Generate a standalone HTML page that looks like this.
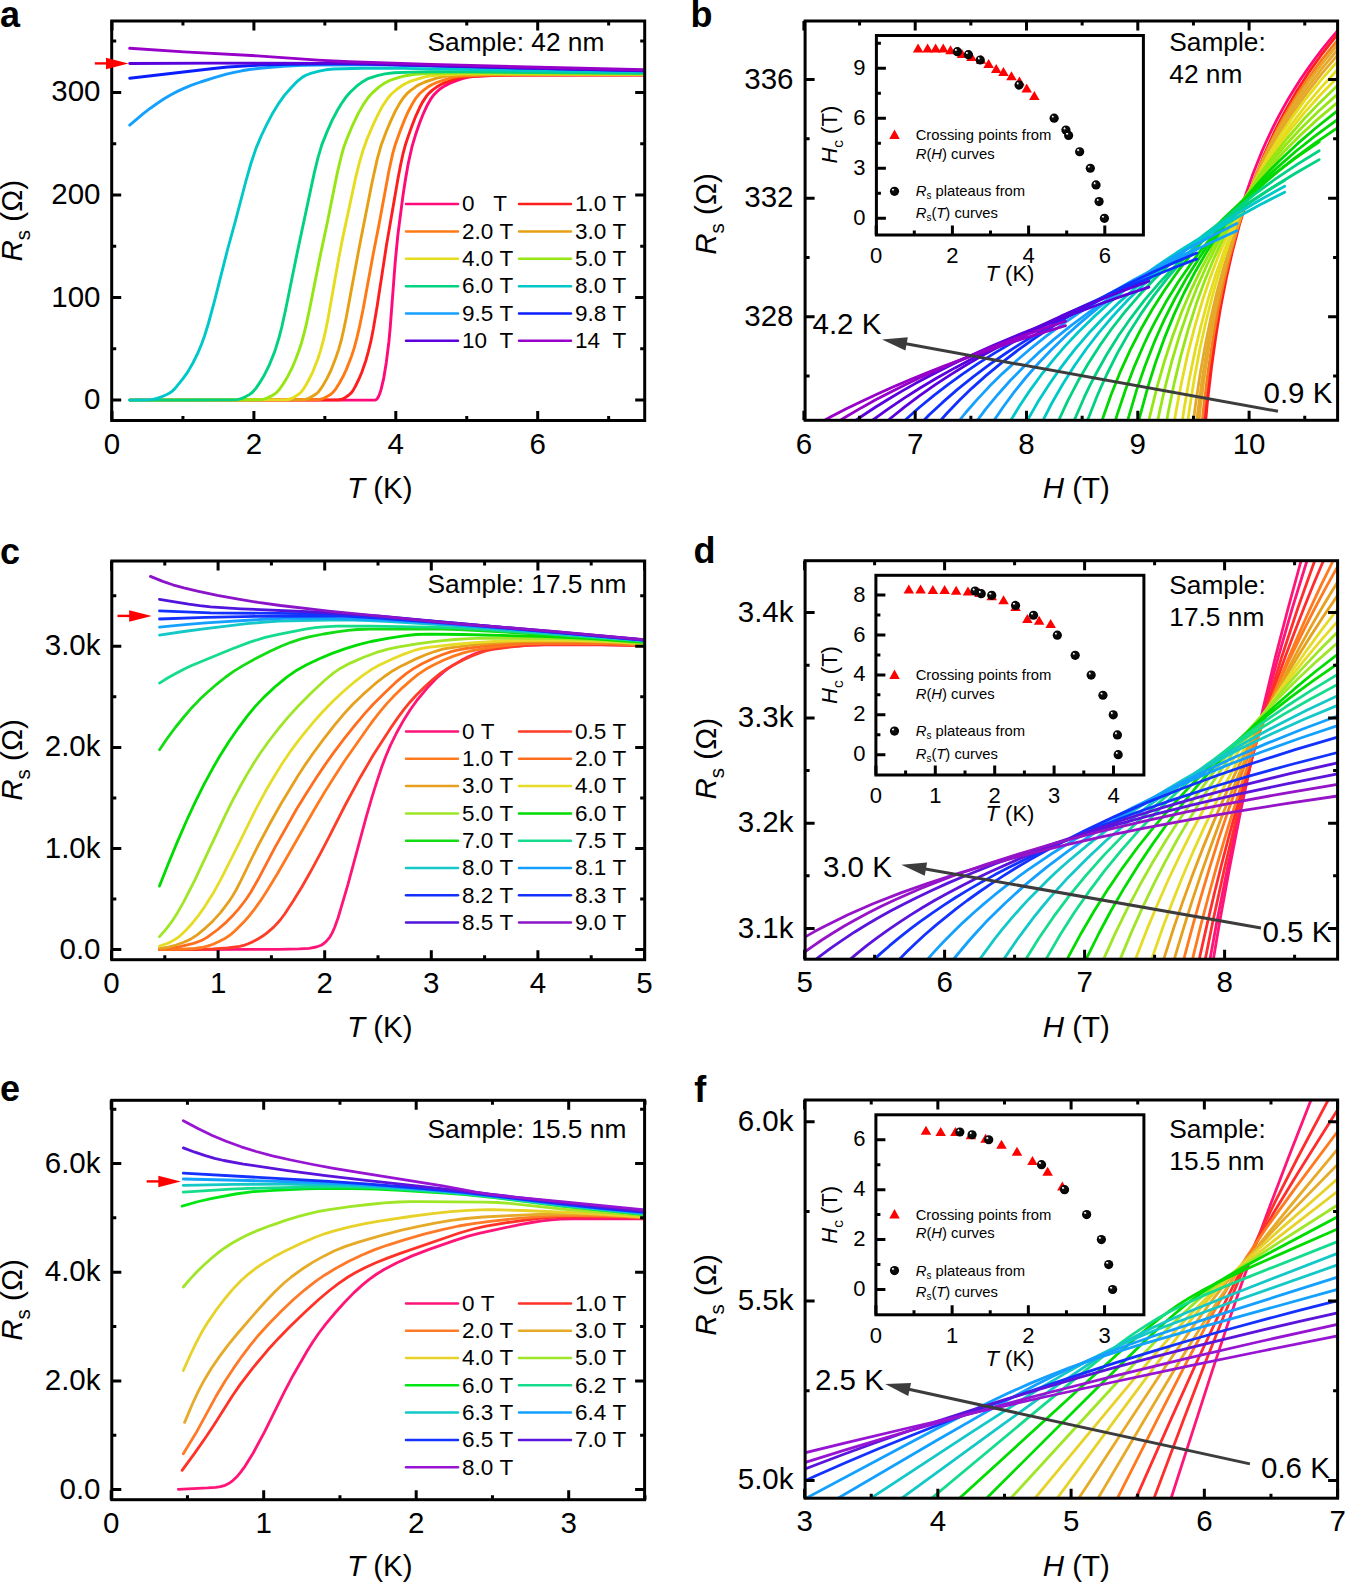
<!DOCTYPE html><html><head><meta charset="utf-8"><style>html,body{margin:0;padding:0;background:#fff}svg{display:block}text{font-family:"Liberation Sans",sans-serif;fill:#000}</style></head><body><svg width="1345" height="1582" viewBox="0 0 1345 1582"><defs><radialGradient id="sph" cx="0.5" cy="0.5" r="0.5" fx="0.3" fy="0.27"><stop offset="0" stop-color="#fff"/><stop offset="0.12" stop-color="#eee"/><stop offset="0.3" stop-color="#111"/><stop offset="1" stop-color="#000"/></radialGradient><clipPath id="c1"><rect x="111.7" y="21" width="533" height="399.5"/></clipPath><clipPath id="c2"><rect x="805.1" y="21" width="532.5" height="399.3"/></clipPath><clipPath id="c3"><rect x="111.8" y="561" width="532.9" height="398.7"/></clipPath><clipPath id="c4"><rect x="805.1" y="560.7" width="532.5" height="398.5"/></clipPath><clipPath id="c5"><rect x="111.8" y="1100.3" width="532.8" height="399.4"/></clipPath><clipPath id="c6"><rect x="805.1" y="1100" width="532.5" height="398.2"/></clipPath></defs><path d="M129.7 400.1L373.4 400.1L374.7 400.1L376.0 399.8L377.3 398.6L378.6 396.4L379.8 393.5L381.1 389.4L383.7 378.4L386.3 362.5L388.9 341.7L390.2 327.7L395.3 261.0L397.9 234.6L403.0 195.4L405.6 178.5L408.2 163.7L412.1 146.3L415.9 133.7L419.8 122.5L423.7 112.8L427.5 104.7L431.4 98.1L434.0 94.7L436.6 92.0L440.4 88.7L444.3 86.1L449.5 83.4L455.9 80.8L462.3 78.7L467.5 77.3L472.7 76.5L492.0 75.5L513.9 75.1L644.1 75.0" fill="none" stroke="#ff0a78" stroke-width="2.9" stroke-linejoin="round" stroke-linecap="round" clip-path="url(#c1)"/>
<path d="M129.7 400.1L338.6 399.8L341.2 399.5L345.0 397.7L348.9 395.0L351.5 392.6L352.8 390.9L355.3 386.5L359.2 378.5L361.8 372.3L365.7 361.0L368.2 352.1L370.8 341.7L373.4 328.5L377.3 305.2L386.3 246.3L397.9 179.1L400.5 165.6L403.0 153.8L405.6 144.2L408.2 136.4L412.1 125.5L415.9 115.8L419.8 107.3L422.4 102.4L426.3 96.4L428.8 93.3L432.7 89.9L436.6 87.1L440.4 84.8L444.3 82.9L450.7 80.5L457.2 78.5L462.3 77.2L467.5 76.5L485.6 75.5L506.2 75.0L644.1 74.9" fill="none" stroke="#ff1e1e" stroke-width="2.9" stroke-linejoin="round" stroke-linecap="round" clip-path="url(#c1)"/>
<path d="M129.7 400.1L318.0 399.8L321.8 399.0L325.7 397.3L330.9 394.2L333.4 391.9L336.0 388.6L339.9 382.3L343.7 375.2L346.3 369.6L351.5 356.3L354.1 348.4L356.6 339.2L359.2 328.2L363.1 309.3L373.4 253.1L378.6 226.6L388.9 171.0L392.7 153.6L395.3 144.5L400.5 130.1L404.3 120.4L408.2 111.7L412.1 104.3L415.9 98.1L419.8 93.5L423.7 90.1L428.8 86.4L432.7 84.3L436.6 82.5L443.0 80.3L449.5 78.3L454.6 77.1L458.5 76.4L468.8 75.7L488.1 75.0L511.3 74.8L644.1 74.8" fill="none" stroke="#ff7a14" stroke-width="2.9" stroke-linejoin="round" stroke-linecap="round" clip-path="url(#c1)"/>
<path d="M129.7 400.1L302.5 399.8L305.1 399.5L308.9 398.2L314.1 395.3L316.7 393.5L318.0 392.4L320.5 389.2L323.1 385.2L327.0 378.4L330.9 370.5L336.0 357.3L338.6 349.6L341.2 340.5L343.7 329.6L346.3 317.2L359.2 247.5L372.1 182.3L377.3 158.9L381.1 145.3L386.3 131.5L390.2 122.1L395.3 111.1L399.2 104.1L403.0 98.3L406.9 93.7L410.8 90.3L415.9 86.6L419.8 84.3L425.0 82.0L436.6 78.2L441.7 77.0L446.9 76.1L457.2 75.3L472.7 74.7L488.1 74.4L644.1 74.6" fill="none" stroke="#e6a014" stroke-width="2.9" stroke-linejoin="round" stroke-linecap="round" clip-path="url(#c1)"/>
<path d="M129.7 400.1L285.7 399.8L288.3 399.5L292.2 398.2L294.8 396.8L298.6 394.3L301.2 392.0L303.8 388.6L306.4 384.3L310.2 377.2L312.8 371.8L318.0 358.5L320.5 350.6L323.1 341.4L325.7 330.1L328.3 317.1L338.6 258.9L342.5 238.9L355.3 179.2L359.2 163.4L363.1 150.0L366.9 139.4L373.4 124.1L378.6 113.4L382.4 106.3L387.6 98.5L391.4 94.0L396.6 89.5L401.8 85.8L405.6 83.5L410.8 81.2L422.4 77.6L427.5 76.4L432.7 75.5L443.0 74.7L466.2 73.9L494.6 73.7L644.1 74.2" fill="none" stroke="#e6dc1e" stroke-width="2.9" stroke-linejoin="round" stroke-linecap="round" clip-path="url(#c1)"/>
<path d="M129.7 400.1L261.2 399.7L263.8 399.2L266.4 398.4L271.5 395.9L275.4 393.5L276.7 392.4L279.3 389.6L283.2 384.0L287.0 377.8L292.2 367.7L296.0 358.5L298.6 351.6L301.2 343.8L303.8 334.5L306.4 323.9L310.2 306.1L320.5 254.4L327.0 224.0L337.3 172.9L341.2 156.5L343.7 147.5L347.6 137.1L352.8 124.8L357.9 114.1L363.1 104.9L368.2 97.5L372.1 93.1L378.6 87.4L383.7 83.7L387.6 81.5L391.4 79.8L399.2 77.4L405.6 75.7L414.6 74.2L430.1 73.4L448.2 73.0L468.8 72.9L644.1 73.9" fill="none" stroke="#96e614" stroke-width="2.9" stroke-linejoin="round" stroke-linecap="round" clip-path="url(#c1)"/>
<path d="M129.7 400.1L198.1 400.0L236.7 399.7L239.3 399.2L241.9 398.4L245.8 396.6L249.6 394.4L252.2 392.5L256.1 388.1L259.9 382.4L263.8 376.1L269.0 365.7L272.8 356.4L275.4 349.4L279.3 336.7L281.9 326.5L285.7 309.2L297.3 252.2L314.1 173.6L318.0 157.7L321.8 144.9L327.0 131.9L332.1 120.4L337.3 110.5L341.2 104.0L346.3 96.7L350.2 92.3L356.6 86.2L363.1 81.4L366.9 79.2L369.5 78.2L377.3 75.7L385.0 73.9L394.0 72.8L412.1 72.1L431.4 71.7L467.5 71.9L644.1 73.4" fill="none" stroke="#00d282" stroke-width="2.9" stroke-linejoin="round" stroke-linecap="round" clip-path="url(#c1)"/>
<path d="M129.7 400.1L149.1 399.8L152.9 399.4L156.8 398.5L160.7 397.2L165.8 395.0L169.7 393.0L172.3 391.1L174.9 388.6L182.6 379.2L187.8 371.9L192.9 363.0L198.1 352.5L201.9 343.3L204.5 336.0L208.4 323.5L214.8 299.8L227.7 249.0L235.5 220.7L245.8 181.5L250.9 163.5L256.1 148.1L261.2 136.0L266.4 125.1L272.8 112.9L278.0 104.4L284.4 95.4L290.9 88.0L297.3 81.3L302.5 77.1L306.4 75.0L311.5 73.2L319.2 71.1L325.7 69.8L333.4 69.0L361.8 68.2L403.0 68.4L538.4 70.7L644.1 72.1" fill="none" stroke="#00c8c8" stroke-width="2.9" stroke-linejoin="round" stroke-linecap="round" clip-path="url(#c1)"/>
<path d="M129.7 125.1L143.9 113.1L150.4 108.2L158.1 102.7L164.5 98.5L171.0 94.8L177.4 91.4L183.9 88.4L191.6 85.2L200.6 82.0L213.5 77.9L226.4 74.2L234.2 72.3L241.9 70.8L250.9 69.3L259.9 68.2L283.2 66.2L302.5 65.2L319.2 65.0L368.2 64.9L397.9 65.4L644.1 70.9" fill="none" stroke="#14a0ff" stroke-width="2.9" stroke-linejoin="round" stroke-linecap="round" clip-path="url(#c1)"/>
<path d="M129.7 78.2L213.5 68.5L227.7 67.0L259.9 65.1L289.6 64.2L334.7 63.8L366.9 64.1L533.3 68.4L644.1 70.7" fill="none" stroke="#0a1eff" stroke-width="2.9" stroke-linejoin="round" stroke-linecap="round" clip-path="url(#c1)"/>
<path d="M129.7 63.5L217.4 63.1L345.0 63.4L441.7 65.7L538.4 68.3L644.1 70.5" fill="none" stroke="#5a00dc" stroke-width="2.9" stroke-linejoin="round" stroke-linecap="round" clip-path="url(#c1)"/>
<path d="M129.7 48.3L183.9 51.9L257.4 55.9L318.0 60.1L348.9 61.7L431.4 64.4L538.4 67.3L644.1 69.7" fill="none" stroke="#9600c8" stroke-width="2.9" stroke-linejoin="round" stroke-linecap="round" clip-path="url(#c1)"/>
<path d="M112 420.5v-9.5M112 21v9.5M253.9 420.5v-9.5M253.9 21v9.5M395.8 420.5v-9.5M395.8 21v9.5M537.7 420.5v-9.5M537.7 21v9.5M182.95 420.5v-4.5M182.95 21v4.5M324.85 420.5v-4.5M324.85 21v4.5M466.75 420.5v-4.5M466.75 21v4.5M608.65 420.5v-4.5M608.65 21v4.5M111.7 400.1h9.5M644.7 400.1h-9.5M111.7 297.53h9.5M644.7 297.53h-9.5M111.7 194.96h9.5M644.7 194.96h-9.5M111.7 92.39h9.5M644.7 92.39h-9.5M111.7 348.81h4.5M644.7 348.81h-4.5M111.7 246.25h4.5M644.7 246.25h-4.5M111.7 143.68h4.5M644.7 143.68h-4.5M111.7 41.11h4.5M644.7 41.11h-4.5" stroke="#000" stroke-width="3" fill="none"/>
<rect x="111.7" y="21" width="533" height="399.5" stroke="#000" stroke-width="3" fill="none"/>
<text x="112" y="453.5" font-size="29.5" text-anchor="middle">0</text>
<text x="253.9" y="453.5" font-size="29.5" text-anchor="middle">2</text>
<text x="395.8" y="453.5" font-size="29.5" text-anchor="middle">4</text>
<text x="537.7" y="453.5" font-size="29.5" text-anchor="middle">6</text>
<text x="100.5" y="409.1" font-size="29.5" text-anchor="end">0</text>
<text x="100.5" y="306.53" font-size="29.5" text-anchor="end">100</text>
<text x="100.5" y="203.96" font-size="29.5" text-anchor="end">200</text>
<text x="100.5" y="101.39" font-size="29.5" text-anchor="end">300</text>
<text x="379.8" y="498" text-anchor="middle" font-size="29.5"><tspan font-style="italic">T</tspan> (K)</text>
<text transform="translate(22,220.7) rotate(-90)" text-anchor="middle" font-size="29.5"><tspan font-style="italic">R</tspan><tspan font-size="20.6" dy="8.0">s</tspan><tspan dy="-8.0"> (Ω)</tspan></text>
<text x="0" y="26.5" font-size="36" font-weight="bold">a</text>
<text x="427.5" y="50.5" font-size="26.3">Sample: 42 nm</text>
<path d="M406 204.1h52" stroke="#ff0a78" stroke-width="2.5" stroke-linecap="round"/>
<text x="462" y="211.4" font-size="22.5">0&#160;&#160;&#160;T</text>
<path d="M519 204.1h52" stroke="#ff1e1e" stroke-width="2.5" stroke-linecap="round"/>
<text x="575" y="211.4" font-size="22.5">1.0&#160;T</text>
<path d="M406 231.45h52" stroke="#ff7a14" stroke-width="2.5" stroke-linecap="round"/>
<text x="462" y="238.75" font-size="22.5">2.0&#160;T</text>
<path d="M519 231.45h52" stroke="#e6a014" stroke-width="2.5" stroke-linecap="round"/>
<text x="575" y="238.75" font-size="22.5">3.0&#160;T</text>
<path d="M406 258.8h52" stroke="#e6dc1e" stroke-width="2.5" stroke-linecap="round"/>
<text x="462" y="266.1" font-size="22.5">4.0&#160;T</text>
<path d="M519 258.8h52" stroke="#96e614" stroke-width="2.5" stroke-linecap="round"/>
<text x="575" y="266.1" font-size="22.5">5.0&#160;T</text>
<path d="M406 286.15h52" stroke="#00d282" stroke-width="2.5" stroke-linecap="round"/>
<text x="462" y="293.45" font-size="22.5">6.0&#160;T</text>
<path d="M519 286.15h52" stroke="#00c8c8" stroke-width="2.5" stroke-linecap="round"/>
<text x="575" y="293.45" font-size="22.5">8.0&#160;T</text>
<path d="M406 313.5h52" stroke="#14a0ff" stroke-width="2.5" stroke-linecap="round"/>
<text x="462" y="320.8" font-size="22.5">9.5&#160;T</text>
<path d="M519 313.5h52" stroke="#0a1eff" stroke-width="2.5" stroke-linecap="round"/>
<text x="575" y="320.8" font-size="22.5">9.8&#160;T</text>
<path d="M406 340.85h52" stroke="#5a00dc" stroke-width="2.5" stroke-linecap="round"/>
<text x="462" y="348.15" font-size="22.5">10&#160;&#160;T</text>
<path d="M519 340.85h52" stroke="#9600c8" stroke-width="2.5" stroke-linecap="round"/>
<text x="575" y="348.15" font-size="22.5">14&#160;&#160;T</text>
<path d="M94.8 63.4H107" stroke="#ff0000" stroke-width="2.4"/>
<path d="M128.5 63.4L106 57.65L106 69.15Z" fill="#ff0000"/>
<path d="M1202.3 449.2L1205.7 407.1L1209.2 373.4L1213.4 340.4L1218.2 308.5L1223.8 278.3L1230.1 249.8L1237.0 222.9L1243.9 199.7L1252.3 175.6L1261.3 152.9L1266.2 141.8L1271.7 130.0L1277.3 118.9L1282.8 108.6L1288.4 98.8L1294.7 88.5L1300.9 78.8L1307.9 68.6L1314.8 59.0L1321.7 49.9L1329.4 40.4L1337.0 31.5" fill="none" stroke="#ff0a78" stroke-width="2.8" stroke-linejoin="round" stroke-linecap="round" clip-path="url(#c2)"/>
<path d="M1203.9 440.4L1207.3 403.4L1211.5 367.4L1215.7 337.4L1220.5 307.9L1226.1 279.3L1232.3 251.8L1239.2 225.6L1246.9 200.7L1255.2 177.0L1264.2 154.5L1273.9 133.0L1279.5 121.9L1285.0 111.4L1296.8 90.9L1309.3 71.6L1322.5 53.3L1337.0 35.0" fill="none" stroke="#ff1e1e" stroke-width="2.8" stroke-linejoin="round" stroke-linecap="round" clip-path="url(#c2)"/>
<path d="M1200.0 444.2L1203.6 408.2L1207.9 372.8L1212.9 338.9L1217.9 310.3L1223.6 282.5L1230.0 255.6L1237.1 229.8L1245.0 205.2L1253.5 181.8L1262.8 159.4L1272.8 138.1L1278.5 127.0L1284.2 116.5L1295.6 97.2L1308.5 77.8L1322.0 59.3L1337.0 40.9" fill="none" stroke="#f57d1e" stroke-width="2.8" stroke-linejoin="round" stroke-linecap="round" clip-path="url(#c2)"/>
<path d="M1196.9 440.5L1200.5 406.6L1204.9 372.9L1210.1 340.2L1215.2 312.5L1221.1 285.2L1227.7 258.8L1235.0 233.4L1243.1 209.0L1251.9 185.6L1261.4 163.3L1271.7 142.1L1277.6 130.9L1283.5 120.4L1295.2 101.1L1308.4 81.6L1322.4 63.1L1337.0 45.4" fill="none" stroke="#e6a82a" stroke-width="2.8" stroke-linejoin="round" stroke-linecap="round" clip-path="url(#c2)"/>
<path d="M1194.0 445.0L1197.8 412.0L1202.2 378.9L1207.5 346.6L1212.7 319.1L1219.5 288.8L1226.2 262.8L1233.7 237.7L1241.9 213.5L1250.9 190.3L1260.7 168.0L1271.1 146.7L1282.4 126.4L1294.3 106.8L1307.8 87.1L1322.1 68.3L1337.0 50.4" fill="none" stroke="#e6a82a" stroke-width="2.8" stroke-linejoin="round" stroke-linecap="round" clip-path="url(#c2)"/>
<path d="M1190.8 442.1L1195.4 405.4L1200.0 374.7L1205.4 344.3L1210.8 318.1L1216.9 292.1L1223.9 266.5L1231.6 241.8L1240.0 217.8L1249.3 194.8L1259.3 172.6L1270.1 151.4L1281.6 131.0L1293.9 111.5L1307.8 91.7L1321.6 73.8L1337.0 55.8" fill="none" stroke="#e6a82a" stroke-width="2.8" stroke-linejoin="round" stroke-linecap="round" clip-path="url(#c2)"/>
<path d="M1184.6 445.2L1189.4 409.4L1194.2 379.3L1199.8 349.3L1205.5 323.5L1212.7 294.7L1219.9 269.8L1227.9 245.5L1236.7 221.9L1246.4 199.2L1256.8 177.3L1268.0 156.2L1280.1 136.0L1292.9 116.6L1306.5 98.0L1321.0 80.1L1337.0 62.0" fill="none" stroke="#e6dc1e" stroke-width="2.8" stroke-linejoin="round" stroke-linecap="round" clip-path="url(#c2)"/>
<path d="M1179.2 441.9L1184.2 408.2L1189.2 379.6L1195.0 350.9L1200.9 326.1L1208.4 298.2L1215.9 274.0L1224.3 250.3L1233.5 227.2L1243.5 204.9L1254.3 183.4L1266.0 162.7L1278.6 142.7L1291.9 123.6L1306.1 105.1L1321.2 87.4L1337.0 70.3" fill="none" stroke="#e6dc1e" stroke-width="2.8" stroke-linejoin="round" stroke-linecap="round" clip-path="url(#c2)"/>
<path d="M1170.7 444.2L1176.0 411.4L1181.3 383.5L1187.4 355.4L1194.5 327.7L1202.4 300.8L1210.3 277.2L1219.1 254.1L1228.8 231.6L1239.4 209.7L1250.8 188.6L1263.1 168.3L1275.4 149.9L1289.5 130.9L1304.5 112.6L1320.3 95.0L1337.0 78.0" fill="none" stroke="#e6dc1e" stroke-width="2.8" stroke-linejoin="round" stroke-linecap="round" clip-path="url(#c2)"/>
<path d="M1163.1 440.8L1168.7 409.8L1174.2 383.2L1180.7 356.3L1188.1 329.7L1196.4 303.6L1204.7 280.7L1214.0 258.2L1224.2 236.2L1235.3 214.8L1247.3 194.1L1260.2 174.1L1273.2 156.1L1287.1 138.5L1302.8 120.3L1319.5 102.9L1337.0 86.0" fill="none" stroke="#96e614" stroke-width="2.8" stroke-linejoin="round" stroke-linecap="round" clip-path="url(#c2)"/>
<path d="M1153.5 442.9L1159.3 412.8L1165.2 386.9L1172.0 360.7L1179.8 334.6L1188.6 309.1L1197.4 286.6L1207.2 264.5L1217.9 242.9L1229.6 221.8L1242.3 201.4L1256.0 181.7L1269.7 163.8L1284.3 146.5L1300.9 128.5L1318.5 111.3L1337.0 94.6" fill="none" stroke="#96e614" stroke-width="2.8" stroke-linejoin="round" stroke-linecap="round" clip-path="url(#c2)"/>
<path d="M1143.7 445.0L1149.9 415.9L1157.1 386.8L1164.3 361.7L1172.5 336.6L1181.7 311.9L1191.0 290.2L1201.3 268.7L1212.6 247.6L1224.9 227.0L1238.3 207.0L1245.5 197.1L1252.7 187.7L1267.1 170.2L1283.6 152.0L1300.0 135.5L1317.5 119.4L1337.0 102.9" fill="none" stroke="#96e614" stroke-width="2.8" stroke-linejoin="round" stroke-linecap="round" clip-path="url(#c2)"/>
<path d="M1133.8 441.8L1140.4 414.3L1148.0 386.6L1155.6 362.5L1164.3 338.4L1174.0 314.6L1183.8 293.5L1194.7 272.6L1206.6 252.1L1219.7 232.1L1232.7 214.0L1240.3 204.2L1247.9 194.9L1263.1 177.7L1271.8 168.5L1280.5 159.7L1297.9 143.4L1316.4 127.5L1337.0 111.2" fill="none" stroke="#00d800" stroke-width="2.8" stroke-linejoin="round" stroke-linecap="round" clip-path="url(#c2)"/>
<path d="M1121.8 443.5L1128.7 416.8L1136.7 389.9L1144.8 366.5L1154.0 342.9L1158.6 332.2L1164.3 319.7L1174.7 299.0L1186.2 278.6L1198.9 258.4L1205.8 248.3L1212.7 238.8L1226.5 221.0L1234.6 211.4L1242.6 202.3L1258.7 185.3L1268.0 176.2L1277.2 167.6L1295.6 151.5L1315.2 135.9L1337.0 119.8" fill="none" stroke="#00d800" stroke-width="2.8" stroke-linejoin="round" stroke-linecap="round" clip-path="url(#c2)"/>
<path d="M1109.7 440.4L1117.0 415.1L1125.6 389.5L1134.1 367.1L1143.9 344.5L1148.8 334.2L1154.9 322.1L1165.9 302.1L1178.1 282.3L1191.6 262.7L1198.9 252.9L1206.3 243.6L1220.9 226.3L1229.5 216.9L1238.0 208.0L1255.1 191.4L1264.9 182.6L1274.7 174.2L1294.3 158.4L1315.0 143.1L1337.0 128.1" fill="none" stroke="#00d800" stroke-width="2.8" stroke-linejoin="round" stroke-linecap="round" clip-path="url(#c2)"/>
<path d="M1095.3 442.1L1102.6 418.8L1111.1 394.8L1120.7 370.8L1130.4 349.6L1141.3 328.5L1152.2 309.5L1164.3 290.5L1177.6 271.7L1192.1 253.2L1206.7 236.4L1215.1 227.3L1223.6 218.6L1240.6 202.4L1258.7 186.5L1278.1 171.0L1298.6 155.8L1319.2 141.8" fill="none" stroke="#00d800" stroke-width="2.8" stroke-linejoin="round" stroke-linecap="round" clip-path="url(#c2)"/>
<path d="M1079.8 443.1L1087.5 420.5L1096.6 397.3L1101.8 385.3L1107.0 374.0L1117.3 353.4L1129.0 332.8L1140.6 314.4L1153.6 295.9L1167.8 277.6L1183.3 259.5L1198.9 243.1L1207.9 234.2L1217.0 225.8L1235.1 209.9L1254.5 194.4L1275.2 179.2L1297.2 164.4L1319.2 150.7" fill="none" stroke="#00d282" stroke-width="2.8" stroke-linejoin="round" stroke-linecap="round" clip-path="url(#c2)"/>
<path d="M1066.4 440.6L1074.7 419.2L1084.3 397.2L1089.8 385.7L1095.3 375.0L1106.3 355.3L1118.6 335.5L1131.0 317.8L1144.7 299.9L1159.9 282.2L1176.3 264.7L1192.8 248.8L1210.7 233.1L1229.9 217.6L1250.5 202.4L1272.5 187.5L1295.9 173.0L1319.2 159.6" fill="none" stroke="#00d282" stroke-width="2.8" stroke-linejoin="round" stroke-linecap="round" clip-path="url(#c2)"/>
<path d="M1049.5 442.3L1058.6 420.5L1067.6 401.1L1077.9 381.3L1088.3 363.5L1099.9 345.4L1111.5 329.0L1124.5 312.4L1138.7 295.8L1154.2 279.2L1169.7 264.2L1186.5 249.1L1203.3 235.3L1222.7 220.6L1242.1 207.0L1262.7 193.6L1284.7 180.3" fill="none" stroke="#00d282" stroke-width="2.8" stroke-linejoin="round" stroke-linecap="round" clip-path="url(#c2)"/>
<path d="M1032.5 443.2L1042.2 421.9L1051.9 403.0L1063.0 383.7L1074.1 366.2L1086.6 348.5L1099.1 332.4L1112.9 316.1L1128.1 299.8L1144.8 283.6L1161.4 268.7L1179.4 254.0L1197.4 240.4L1218.2 225.9L1239.0 212.5L1261.2 199.3L1284.7 186.3" fill="none" stroke="#00c8c8" stroke-width="2.8" stroke-linejoin="round" stroke-linecap="round" clip-path="url(#c2)"/>
<path d="M1016.8 441.2L1027.2 420.8L1037.5 402.6L1049.4 384.0L1061.2 367.1L1074.5 349.9L1087.8 334.3L1102.7 318.5L1118.9 302.6L1136.7 286.8L1154.5 272.3L1173.7 257.8L1192.9 244.5L1213.7 231.3L1235.9 218.1L1259.6 205.0L1284.7 192.2" fill="none" stroke="#00c8c8" stroke-width="2.8" stroke-linejoin="round" stroke-linecap="round" clip-path="url(#c2)"/>
<path d="M999.4 440.7L1008.8 423.6L1019.5 406.0L1030.3 389.9L1041.0 375.2L1053.1 360.1L1065.1 346.1L1078.6 331.8L1093.3 317.4L1108.1 304.0L1124.2 290.5L1140.3 278.0L1157.7 265.4L1176.5 252.8L1195.3 241.0L1215.4 229.2L1236.9 217.4" fill="none" stroke="#00c8c8" stroke-width="2.8" stroke-linejoin="round" stroke-linecap="round" clip-path="url(#c2)"/>
<path d="M981.1 441.2L991.2 424.6L1002.8 407.5L1014.3 391.8L1025.9 377.5L1038.9 362.8L1051.9 349.2L1066.4 335.2L1082.2 321.1L1098.1 308.0L1115.5 294.9L1132.8 282.6L1151.6 270.3L1171.8 257.9L1192.1 246.4L1213.7 234.9L1236.9 223.4" fill="none" stroke="#14a0ff" stroke-width="2.8" stroke-linejoin="round" stroke-linecap="round" clip-path="url(#c2)"/>
<path d="M962.5 441.8L973.3 425.8L985.7 409.2L998.1 394.2L1010.5 380.3L1024.5 366.1L1038.4 352.9L1053.9 339.4L1071.0 325.7L1088.0 313.0L1106.6 300.2L1125.2 288.4L1145.4 276.4L1167.1 264.4L1188.8 253.2L1212.1 242.0L1236.9 230.8" fill="none" stroke="#14a0ff" stroke-width="2.8" stroke-linejoin="round" stroke-linecap="round" clip-path="url(#c2)"/>
<path d="M943.9 441.1L954.1 427.2L965.8 412.5L977.5 399.1L989.2 386.6L1002.4 373.6L1017.0 360.2L1031.6 347.8L1046.2 336.2L1062.3 324.4L1078.4 313.3L1095.9 302.0L1114.9 290.6L1133.9 279.8L1154.4 269.0L1174.9 258.8L1196.8 248.6" fill="none" stroke="#14a0ff" stroke-width="2.8" stroke-linejoin="round" stroke-linecap="round" clip-path="url(#c2)"/>
<path d="M923.0 441.4L934.1 427.8L946.7 413.5L959.4 400.3L972.0 388.1L986.3 375.4L1002.1 362.3L1017.9 350.2L1033.8 338.9L1051.2 327.3L1068.6 316.4L1087.6 305.4L1108.2 294.2L1128.7 283.7L1150.9 273.0L1173.0 263.1L1196.8 253.0" fill="none" stroke="#1030ff" stroke-width="2.8" stroke-linejoin="round" stroke-linecap="round" clip-path="url(#c2)"/>
<path d="M903.6 442.1L915.5 429.0L929.0 415.1L942.6 402.4L957.8 389.1L973.1 376.9L990.0 364.2L1007.0 352.5L1023.9 341.6L1042.6 330.4L1061.2 319.9L1081.5 309.2L1103.6 298.3L1125.6 288.1L1147.6 278.5L1171.4 268.8L1196.8 258.9" fill="none" stroke="#1030ff" stroke-width="2.8" stroke-linejoin="round" stroke-linecap="round" clip-path="url(#c2)"/>
<path d="M883.5 441.4L894.5 430.2L907.2 418.2L919.8 407.0L934.0 395.3L948.3 384.3L962.5 374.1L978.3 363.4L994.1 353.4L1011.5 343.0L1028.8 333.2L1046.2 324.0L1065.2 314.6L1085.7 304.9L1106.3 295.7L1126.8 287.1L1148.9 278.2" fill="none" stroke="#1030ff" stroke-width="2.8" stroke-linejoin="round" stroke-linecap="round" clip-path="url(#c2)"/>
<path d="M865.4 440.7L877.3 429.7L890.9 418.0L904.4 407.1L919.7 395.6L935.0 384.9L950.3 374.9L967.3 364.4L984.2 354.6L1002.9 344.4L1021.6 334.8L1040.3 325.7L1060.6 316.4L1081.0 307.6L1103.1 298.5L1125.2 289.9L1148.9 281.2" fill="none" stroke="#5a00dc" stroke-width="2.8" stroke-linejoin="round" stroke-linecap="round" clip-path="url(#c2)"/>
<path d="M846.2 441.5L858.8 430.9L873.3 419.7L887.9 409.1L904.2 398.1L920.5 387.7L936.8 378.0L954.9 367.9L973.1 358.3L993.0 348.5L1013.0 339.2L1032.9 330.4L1054.7 321.3L1076.4 312.8L1100.0 304.0L1123.5 295.6L1148.9 287.1" fill="none" stroke="#5a00dc" stroke-width="2.8" stroke-linejoin="round" stroke-linecap="round" clip-path="url(#c2)"/>
<path d="M827.1 441.5L837.8 433.3L849.9 424.4L862.1 416.0L875.7 407.0L887.9 399.5L901.5 391.4L915.2 383.6L930.4 375.5L945.5 367.7L960.7 360.3L977.4 352.5L994.1 345.1L1010.8 338.0L1029.0 330.6L1065.5 316.8" fill="none" stroke="#5a00dc" stroke-width="2.8" stroke-linejoin="round" stroke-linecap="round" clip-path="url(#c2)"/>
<path d="M809.5 440.3L821.0 432.5L834.1 424.0L847.3 416.0L862.0 407.4L875.2 400.1L889.9 392.4L904.7 385.0L921.1 377.1L937.5 369.7L953.9 362.6L988.3 348.6L1026.1 334.6L1065.5 321.2" fill="none" stroke="#9600c8" stroke-width="2.8" stroke-linejoin="round" stroke-linecap="round" clip-path="url(#c2)"/>
<path d="M789.7 440.5L802.1 433.0L816.3 424.9L830.4 417.1L846.3 408.8L860.4 401.9L876.3 394.4L892.3 387.2L909.9 379.7L927.6 372.5L945.3 365.6L982.4 352.1L1023.0 338.6L1065.5 325.7" fill="none" stroke="#9600c8" stroke-width="2.8" stroke-linejoin="round" stroke-linecap="round" clip-path="url(#c2)"/>
<path d="M803.9 420.3v-9.5M803.9 21v9.5M915.2 420.3v-9.5M915.2 21v9.5M1026.5 420.3v-9.5M1026.5 21v9.5M1137.8 420.3v-9.5M1137.8 21v9.5M1249.1 420.3v-9.5M1249.1 21v9.5M859.55 420.3v-4.5M859.55 21v4.5M970.85 420.3v-4.5M970.85 21v4.5M1082.15 420.3v-4.5M1082.15 21v4.5M1193.45 420.3v-4.5M1193.45 21v4.5M1304.75 420.3v-4.5M1304.75 21v4.5M805.1 316.78h9.5M1337.6 316.78h-9.5M805.1 198.14h9.5M1337.6 198.14h-9.5M805.1 79.5h9.5M1337.6 79.5h-9.5M805.1 376.1h4.5M1337.6 376.1h-4.5M805.1 257.46h4.5M1337.6 257.46h-4.5M805.1 138.82h4.5M1337.6 138.82h-4.5" stroke="#000" stroke-width="3" fill="none"/>
<rect x="805.1" y="21" width="532.5" height="399.3" stroke="#000" stroke-width="3" fill="none"/>
<text x="803.9" y="453.5" font-size="29.5" text-anchor="middle">6</text>
<text x="915.2" y="453.5" font-size="29.5" text-anchor="middle">7</text>
<text x="1026.5" y="453.5" font-size="29.5" text-anchor="middle">8</text>
<text x="1137.8" y="453.5" font-size="29.5" text-anchor="middle">9</text>
<text x="1249.1" y="453.5" font-size="29.5" text-anchor="middle">10</text>
<text x="793.5" y="325.78" font-size="29.5" text-anchor="end">328</text>
<text x="793.5" y="207.14" font-size="29.5" text-anchor="end">332</text>
<text x="793.5" y="88.5" font-size="29.5" text-anchor="end">336</text>
<text x="1076.3" y="498" text-anchor="middle" font-size="29.5"><tspan font-style="italic">H</tspan> (T)</text>
<text transform="translate(716,214) rotate(-90)" text-anchor="middle" font-size="29.5"><tspan font-style="italic">R</tspan><tspan font-size="20.6" dy="8.0">s</tspan><tspan dy="-8.0"> (Ω)</tspan></text>
<text x="690.5" y="26.5" font-size="36" font-weight="bold">b</text>
<text x="1169.3" y="50.5" font-size="26.3">Sample:</text>
<text x="1169.3" y="82.5" font-size="26.3">42 nm</text>
<path d="M1278 411.3L904.63 343.6" stroke="#3c3c3c" stroke-width="3"/>
<path d="M882 339.5L907.79 337.37L905.4 350.55Z" fill="#3c3c3c"/>
<text x="812.5" y="334.2" font-size="29.5">4.2 K</text>
<text x="1263.5" y="402.5" font-size="29.5">0.9 K</text>
<rect x="876.4" y="35.5" width="267" height="199.5" fill="#fff"/>
<path d="M918.11 43.38L923.36 52.38L912.86 52.38Z" fill="#ff0000"/>
<path d="M927.63 43.38L932.88 52.38L922.38 52.38Z" fill="#ff0000"/>
<path d="M935.64 43.38L940.89 52.38L930.39 52.38Z" fill="#ff0000"/>
<path d="M943.26 43.55L948.51 52.55L938.01 52.55Z" fill="#ff0000"/>
<path d="M950.5 45.22L955.75 54.22L945.25 54.22Z" fill="#ff0000"/>
<path d="M961.93 49.05L967.18 58.05L956.68 58.05Z" fill="#ff0000"/>
<path d="M971.45 52.05L976.7 61.05L966.2 61.05Z" fill="#ff0000"/>
<path d="M980.98 54.72L986.23 63.72L975.73 63.72Z" fill="#ff0000"/>
<path d="M988.6 59.06L993.85 68.06L983.35 68.06Z" fill="#ff0000"/>
<path d="M996.22 63.9L1001.47 72.9L990.97 72.9Z" fill="#ff0000"/>
<path d="M1003.45 67.07L1008.7 76.07L998.2 76.07Z" fill="#ff0000"/>
<path d="M1011.46 71.24L1016.71 80.24L1006.21 80.24Z" fill="#ff0000"/>
<path d="M1019.46 76.41L1024.71 85.41L1014.21 85.41Z" fill="#ff0000"/>
<path d="M1026.7 83.58L1031.95 92.58L1021.45 92.58Z" fill="#ff0000"/>
<path d="M1034.32 91.09L1039.57 100.09L1029.07 100.09Z" fill="#ff0000"/>
<circle cx="957.35" cy="51.67" r="4.6" fill="url(#sph)"/>
<circle cx="968.4" cy="54.67" r="4.6" fill="url(#sph)"/>
<circle cx="980.21" cy="60.01" r="4.6" fill="url(#sph)"/>
<circle cx="1019.08" cy="85.03" r="4.6" fill="url(#sph)"/>
<circle cx="1054.13" cy="118.22" r="4.6" fill="url(#sph)"/>
<circle cx="1065.94" cy="130.06" r="4.6" fill="url(#sph)"/>
<circle cx="1068.61" cy="135.4" r="4.6" fill="url(#sph)"/>
<circle cx="1079.65" cy="151.75" r="4.6" fill="url(#sph)"/>
<circle cx="1090.32" cy="168.26" r="4.6" fill="url(#sph)"/>
<circle cx="1096.04" cy="184.94" r="4.6" fill="url(#sph)"/>
<circle cx="1099.09" cy="201.62" r="4.6" fill="url(#sph)"/>
<circle cx="1104.42" cy="218.3" r="4.6" fill="url(#sph)"/>
<path d="M876.2 235v-9.5M952.4 235v-9.5M1028.6 235v-9.5M1104.8 235v-9.5M914.3 235v-4.5M990.5 235v-4.5M1066.7 235v-4.5M876.4 218.3h9.5M876.4 168.26h9.5M876.4 118.22h9.5M876.4 68.18h9.5M876.4 193.28h4.5M876.4 143.24h4.5M876.4 93.2h4.5M876.4 43.16h4.5" stroke="#000" stroke-width="3" fill="none"/>
<rect x="876.4" y="35.5" width="267" height="199.5" stroke="#000" stroke-width="3" fill="none"/>
<text x="876.2" y="262.7" font-size="22" text-anchor="middle">0</text>
<text x="952.4" y="262.7" font-size="22" text-anchor="middle">2</text>
<text x="1028.6" y="262.7" font-size="22" text-anchor="middle">4</text>
<text x="1104.8" y="262.7" font-size="22" text-anchor="middle">6</text>
<text x="865.5" y="224.8" font-size="22" text-anchor="end">0</text>
<text x="865.5" y="174.76" font-size="22" text-anchor="end">3</text>
<text x="865.5" y="124.72" font-size="22" text-anchor="end">6</text>
<text x="865.5" y="74.68" font-size="22" text-anchor="end">9</text>
<path d="M894.5 129.47L899.75 138.97L889.25 138.97Z" fill="#ff0000"/>
<circle cx="894.5" cy="191.3" r="4.6" fill="url(#sph)"/>
<text x="915.7" y="140.3" font-size="14.8">Crossing points from</text>
<text x="915.7" y="158.7" font-size="14.8"><tspan font-style="italic">R</tspan>(<tspan font-style="italic">H</tspan>) curves</text>
<text x="915.7" y="196.3" font-size="14.8"><tspan font-style="italic">R</tspan><tspan font-size="10" dy="3">s</tspan><tspan dy="-3"> plateaus from</tspan></text>
<text x="915.7" y="218.1" font-size="14.8"><tspan font-style="italic">R</tspan><tspan font-size="10" dy="3">s</tspan><tspan dy="-3">(</tspan><tspan font-style="italic">T</tspan>) curves</text>
<text x="1010" y="281" text-anchor="middle" font-size="22"><tspan font-style="italic">T</tspan> (K)</text>
<text transform="translate(836.7,134.7) rotate(-90)" text-anchor="middle" font-size="22"><tspan font-style="italic">H</tspan><tspan font-size="15.4" dy="5.9">c</tspan><tspan dy="-5.9"> (T)</tspan></text>
<path d="M159.5 949.6L278.6 949.4L299.3 948.9L309.0 948.3L316.3 947.0L321.1 945.2L323.6 943.7L326.0 941.7L329.7 937.3L332.1 933.1L334.5 927.7L338.2 917.5L347.9 884.6L366.1 817.4L372.2 796.4L377.1 780.9L381.9 766.5L385.6 756.8L390.4 745.4L396.5 733.0L403.8 719.9L409.9 710.2L417.2 700.0L426.9 688.3L435.4 679.2L443.9 671.6L447.6 668.8L452.4 665.6L460.9 660.6L468.2 656.8L474.3 654.1L480.4 651.8L485.3 650.3L491.3 649.0L509.6 646.7L527.8 645.3L543.6 644.8L600.7 644.9L644.5 645.7" fill="none" stroke="#ff1478" stroke-width="2.8" stroke-linejoin="round" stroke-linecap="round" clip-path="url(#c3)"/>
<path d="M159.5 949.6L191.1 949.4L213.0 949.0L227.5 948.0L239.7 946.4L244.6 945.1L248.2 943.8L253.1 941.6L257.9 939.0L262.8 936.0L266.4 933.4L273.7 927.1L279.8 920.5L284.7 914.0L293.2 901.1L301.7 887.2L310.2 872.3L321.1 852.1L328.4 838.2L345.5 804.5L360.0 777.7L373.4 754.8L390.4 728.4L397.7 717.9L403.8 709.7L409.9 702.2L416.0 695.5L424.5 687.0L433.0 679.3L440.3 673.4L447.6 668.4L454.9 664.3L464.6 659.3L473.1 655.4L480.4 652.6L486.5 650.7L492.5 649.4L509.6 647.0L529.0 645.2L546.0 644.5L602.0 644.7L644.5 645.5" fill="none" stroke="#ff3c28" stroke-width="2.8" stroke-linejoin="round" stroke-linecap="round" clip-path="url(#c3)"/>
<path d="M159.5 949.6L177.7 949.3L194.7 948.5L202.0 947.5L208.1 945.9L213.0 944.2L219.0 941.5L223.9 939.1L227.5 936.8L231.2 934.1L234.8 931.0L243.3 922.6L249.4 915.7L254.3 909.4L260.4 900.9L266.4 891.7L277.4 873.7L313.9 810.2L324.8 791.9L334.5 776.4L344.2 761.5L366.1 730.2L373.4 720.2L380.7 710.8L386.8 703.6L392.9 697.1L402.6 687.6L411.1 680.1L418.4 674.2L425.7 669.3L433.0 665.2L443.9 660.0L453.6 656.1L463.4 652.9L470.7 651.0L480.4 649.2L496.2 646.7L509.6 645.0L527.8 643.5L549.7 643.3L603.2 643.7L625.1 644.3L644.5 645.1" fill="none" stroke="#ff7a1e" stroke-width="2.8" stroke-linejoin="round" stroke-linecap="round" clip-path="url(#c3)"/>
<path d="M159.5 949.1L169.2 948.5L180.1 946.7L193.5 943.4L200.8 940.8L204.4 938.9L208.1 936.7L217.8 929.5L226.3 922.1L233.6 914.7L238.5 909.1L243.3 903.0L247.0 898.0L250.6 892.5L257.9 879.8L275.0 847.4L296.8 808.8L305.3 794.9L316.3 777.8L324.8 765.1L333.3 753.1L344.2 738.6L355.2 724.9L364.9 713.4L373.4 704.0L385.6 691.9L397.7 680.6L406.2 673.6L413.5 668.6L422.0 663.8L433.0 658.5L442.7 654.5L451.2 651.6L458.5 649.8L465.8 648.5L481.6 646.3L496.2 644.6L509.6 643.4L522.9 642.6L533.9 642.3L552.1 642.3L581.3 642.4L604.4 642.9L625.1 643.6L644.5 644.8" fill="none" stroke="#ff6e1e" stroke-width="2.8" stroke-linejoin="round" stroke-linecap="round" clip-path="url(#c3)"/>
<path d="M159.5 948.3L166.8 947.5L174.1 945.7L183.8 942.3L191.1 938.9L197.2 934.8L205.7 927.8L213.0 920.9L220.3 912.9L225.1 906.7L228.8 901.7L232.4 896.2L236.1 890.0L240.9 880.7L251.9 858.0L257.9 846.0L271.3 821.0L281.0 803.8L298.0 775.8L305.3 764.6L312.6 754.0L323.6 739.2L334.5 725.2L344.2 713.6L352.8 704.3L362.5 694.9L374.6 684.2L384.4 676.5L392.9 670.7L401.4 665.9L414.7 659.4L425.7 654.8L435.4 651.3L442.7 649.2L450.0 647.8L473.1 644.9L490.1 643.4L507.1 642.2L522.9 641.5L537.5 641.3L571.6 641.4L598.3 641.8L622.6 642.8L644.5 644.3" fill="none" stroke="#e6a01e" stroke-width="2.8" stroke-linejoin="round" stroke-linecap="round" clip-path="url(#c3)"/>
<path d="M159.5 946.0L165.5 944.2L170.4 942.1L175.3 939.3L180.1 935.8L186.2 930.0L192.3 923.2L198.4 915.6L204.4 907.1L213.0 893.6L220.3 880.4L238.5 844.4L255.5 809.8L265.2 791.8L273.7 777.2L282.2 763.5L289.5 752.7L298.0 741.1L306.6 730.3L315.1 720.2L323.6 710.7L332.1 702.0L343.0 691.8L354.0 682.3L362.5 675.6L371.0 669.8L379.5 665.1L392.9 658.7L403.8 654.1L413.5 650.7L420.8 648.7L428.1 647.3L453.6 644.5L474.3 642.7L495.0 641.4L515.6 640.6L535.1 640.2L566.7 640.4L594.7 641.0L620.2 642.1L644.5 643.8" fill="none" stroke="#e6dc28" stroke-width="2.8" stroke-linejoin="round" stroke-linecap="round" clip-path="url(#c3)"/>
<path d="M159.5 936.6L165.5 929.9L171.6 921.9L177.7 912.4L183.8 901.6L194.7 880.3L225.1 815.7L232.4 800.9L239.7 787.3L247.0 774.4L254.3 762.3L260.4 753.0L268.9 741.0L278.6 728.5L288.3 716.9L298.0 706.2L311.4 692.8L324.8 680.2L333.3 673.1L340.6 668.2L350.3 663.1L363.7 657.2L375.8 652.7L388.0 649.1L398.9 646.8L418.4 643.7L437.8 641.2L454.9 639.5L469.5 638.6L482.8 638.2L525.4 638.3L557.0 638.7L581.3 639.3L603.2 640.3L623.8 641.6L644.5 643.3" fill="none" stroke="#a0e628" stroke-width="2.8" stroke-linejoin="round" stroke-linecap="round" clip-path="url(#c3)"/>
<path d="M159.5 886.1L168.0 864.5L176.5 843.9L186.2 821.5L194.7 803.2L204.4 783.7L213.0 767.8L220.3 755.2L228.8 741.8L238.5 727.8L247.0 716.4L255.5 706.1L264.0 697.1L276.2 685.8L287.1 676.9L296.8 670.2L306.6 664.8L319.9 658.5L332.1 653.4L345.5 648.6L357.6 644.8L371.0 641.5L389.2 638.1L403.8 635.8L416.0 634.5L428.1 634.2L463.4 634.5L547.3 636.5L591.0 638.6L644.5 642.3" fill="none" stroke="#00dc00" stroke-width="2.8" stroke-linejoin="round" stroke-linecap="round" clip-path="url(#c3)"/>
<path d="M159.5 749.7L168.0 737.3L175.3 727.5L183.8 717.0L192.3 707.2L199.6 699.6L206.9 692.7L216.6 684.3L225.1 677.5L233.6 671.4L242.1 666.1L256.7 658.0L270.1 651.2L281.0 646.2L290.8 642.3L300.5 639.1L309.0 636.9L323.6 634.0L336.9 631.8L347.9 630.3L357.6 629.5L369.8 629.1L441.5 629.2L458.5 629.6L478.0 630.5L554.5 635.2L597.1 638.0L644.5 641.8" fill="none" stroke="#14dc14" stroke-width="2.8" stroke-linejoin="round" stroke-linecap="round" clip-path="url(#c3)"/>
<path d="M159.5 683.1L168.0 677.8L175.3 673.7L183.8 669.2L191.1 665.7L232.4 648.8L250.6 641.9L265.2 637.4L278.6 634.4L305.3 629.2L315.1 627.7L323.6 626.8L336.9 626.1L369.8 626.2L430.6 627.1L456.1 627.9L486.5 629.6L564.3 635.0L644.5 641.2" fill="none" stroke="#14dc8c" stroke-width="2.8" stroke-linejoin="round" stroke-linecap="round" clip-path="url(#c3)"/>
<path d="M159.5 635.1L183.8 631.5L205.7 628.6L247.0 623.7L265.2 622.0L278.6 621.2L301.7 620.5L329.7 620.1L352.8 620.1L368.6 620.5L385.6 621.3L456.1 625.7L644.5 640.7" fill="none" stroke="#14c8c8" stroke-width="2.8" stroke-linejoin="round" stroke-linecap="round" clip-path="url(#c3)"/>
<path d="M159.5 627.1L185.0 624.6L205.7 622.9L267.7 619.0L284.7 618.3L299.3 618.0L334.5 618.5L388.0 620.4L428.1 622.9L547.3 631.9L595.9 636.0L644.5 640.4" fill="none" stroke="#14a0ff" stroke-width="2.8" stroke-linejoin="round" stroke-linecap="round" clip-path="url(#c3)"/>
<path d="M159.5 619.0L205.7 617.3L256.7 616.4L324.8 616.0L338.2 616.1L352.8 616.6L381.9 618.4L454.9 623.8L644.5 640.2" fill="none" stroke="#1432ff" stroke-width="2.8" stroke-linejoin="round" stroke-linecap="round" clip-path="url(#c3)"/>
<path d="M159.5 610.9L210.5 612.8L323.6 613.9L340.6 614.4L357.6 615.3L383.1 617.1L453.6 622.9L535.1 630.4L644.5 640.0" fill="none" stroke="#1432ff" stroke-width="2.8" stroke-linejoin="round" stroke-linecap="round" clip-path="url(#c3)"/>
<path d="M159.5 599.3L188.6 604.2L199.6 605.7L210.5 606.8L240.9 608.8L313.9 612.0L352.8 614.3L380.7 616.2L452.4 622.8L563.1 632.4L644.5 639.8" fill="none" stroke="#5014dc" stroke-width="2.8" stroke-linejoin="round" stroke-linecap="round" clip-path="url(#c3)"/>
<path d="M150.4 576.4L162.8 581.4L172.7 584.8L183.8 587.9L197.5 591.2L217.3 595.4L238.3 599.2L258.1 602.4L280.4 605.5L328.7 611.1L437.7 621.9L466.2 624.4L550.4 631.2L644.5 639.7" fill="none" stroke="#8c14c8" stroke-width="2.8" stroke-linejoin="round" stroke-linecap="round" clip-path="url(#c3)"/>
<path d="M111.5 959.7v-9.5M111.5 561v9.5M218.1 959.7v-9.5M218.1 561v9.5M324.7 959.7v-9.5M324.7 561v9.5M431.3 959.7v-9.5M431.3 561v9.5M537.9 959.7v-9.5M537.9 561v9.5M644.5 959.7v-9.5M644.5 561v9.5M164.8 959.7v-4.5M164.8 561v4.5M271.4 959.7v-4.5M271.4 561v4.5M378 959.7v-4.5M378 561v4.5M484.6 959.7v-4.5M484.6 561v4.5M591.2 959.7v-4.5M591.2 561v4.5M111.8 949.6h9.5M644.7 949.6h-9.5M111.8 848.5h9.5M644.7 848.5h-9.5M111.8 747.4h9.5M644.7 747.4h-9.5M111.8 646.3h9.5M644.7 646.3h-9.5M111.8 899.05h4.5M644.7 899.05h-4.5M111.8 797.95h4.5M644.7 797.95h-4.5M111.8 696.85h4.5M644.7 696.85h-4.5M111.8 595.75h4.5M644.7 595.75h-4.5" stroke="#000" stroke-width="3" fill="none"/>
<rect x="111.8" y="561" width="532.9" height="398.7" stroke="#000" stroke-width="3" fill="none"/>
<text x="111.5" y="992.7" font-size="29.5" text-anchor="middle">0</text>
<text x="218.1" y="992.7" font-size="29.5" text-anchor="middle">1</text>
<text x="324.7" y="992.7" font-size="29.5" text-anchor="middle">2</text>
<text x="431.3" y="992.7" font-size="29.5" text-anchor="middle">3</text>
<text x="537.9" y="992.7" font-size="29.5" text-anchor="middle">4</text>
<text x="644.5" y="992.7" font-size="29.5" text-anchor="middle">5</text>
<text x="100.5" y="958.6" font-size="29.5" text-anchor="end">0.0</text>
<text x="100.5" y="857.5" font-size="29.5" text-anchor="end">1.0k</text>
<text x="100.5" y="756.4" font-size="29.5" text-anchor="end">2.0k</text>
<text x="100.5" y="655.3" font-size="29.5" text-anchor="end">3.0k</text>
<text x="379.8" y="1037.2" text-anchor="middle" font-size="29.5"><tspan font-style="italic">T</tspan> (K)</text>
<text transform="translate(22,760) rotate(-90)" text-anchor="middle" font-size="29.5"><tspan font-style="italic">R</tspan><tspan font-size="20.6" dy="8.0">s</tspan><tspan dy="-8.0"> (Ω)</tspan></text>
<text x="0" y="563.5" font-size="36" font-weight="bold">c</text>
<text x="427.5" y="593.3" font-size="26.3">Sample: 17.5 nm</text>
<path d="M406 731.5h52" stroke="#ff1478" stroke-width="2.5" stroke-linecap="round"/>
<text x="462" y="738.8" font-size="22.5">0&#160;T</text>
<path d="M519 731.5h52" stroke="#ff3c28" stroke-width="2.5" stroke-linecap="round"/>
<text x="575" y="738.8" font-size="22.5">0.5&#160;T</text>
<path d="M406 758.8h52" stroke="#ff7a1e" stroke-width="2.5" stroke-linecap="round"/>
<text x="462" y="766.1" font-size="22.5">1.0&#160;T</text>
<path d="M519 758.8h52" stroke="#ff6e1e" stroke-width="2.5" stroke-linecap="round"/>
<text x="575" y="766.1" font-size="22.5">2.0&#160;T</text>
<path d="M406 786.1h52" stroke="#e6a01e" stroke-width="2.5" stroke-linecap="round"/>
<text x="462" y="793.4" font-size="22.5">3.0&#160;T</text>
<path d="M519 786.1h52" stroke="#e6dc28" stroke-width="2.5" stroke-linecap="round"/>
<text x="575" y="793.4" font-size="22.5">4.0&#160;T</text>
<path d="M406 813.4h52" stroke="#a0e628" stroke-width="2.5" stroke-linecap="round"/>
<text x="462" y="820.7" font-size="22.5">5.0&#160;T</text>
<path d="M519 813.4h52" stroke="#00dc00" stroke-width="2.5" stroke-linecap="round"/>
<text x="575" y="820.7" font-size="22.5">6.0&#160;T</text>
<path d="M406 840.7h52" stroke="#14dc14" stroke-width="2.5" stroke-linecap="round"/>
<text x="462" y="848" font-size="22.5">7.0&#160;T</text>
<path d="M519 840.7h52" stroke="#14dc8c" stroke-width="2.5" stroke-linecap="round"/>
<text x="575" y="848" font-size="22.5">7.5&#160;T</text>
<path d="M406 868h52" stroke="#14c8c8" stroke-width="2.5" stroke-linecap="round"/>
<text x="462" y="875.3" font-size="22.5">8.0&#160;T</text>
<path d="M519 868h52" stroke="#14a0ff" stroke-width="2.5" stroke-linecap="round"/>
<text x="575" y="875.3" font-size="22.5">8.1&#160;T</text>
<path d="M406 895.3h52" stroke="#1432ff" stroke-width="2.5" stroke-linecap="round"/>
<text x="462" y="902.6" font-size="22.5">8.2&#160;T</text>
<path d="M519 895.3h52" stroke="#1432ff" stroke-width="2.5" stroke-linecap="round"/>
<text x="575" y="902.6" font-size="22.5">8.3&#160;T</text>
<path d="M406 922.6h52" stroke="#5014dc" stroke-width="2.5" stroke-linecap="round"/>
<text x="462" y="929.9" font-size="22.5">8.5&#160;T</text>
<path d="M519 922.6h52" stroke="#8c14c8" stroke-width="2.5" stroke-linecap="round"/>
<text x="575" y="929.9" font-size="22.5">9.0&#160;T</text>
<path d="M117.5 615.9H130.2" stroke="#ff0000" stroke-width="2.4"/>
<path d="M151.7 615.9L129.2 610.15L129.2 621.65Z" fill="#ff0000"/>
<path d="M1209.9 979.8L1219.6 922.2L1229.4 868.7L1240.3 813.0L1251.2 761.2L1263.2 707.8L1275.2 657.9L1287.9 609.0L1301.0 561.0" fill="none" stroke="#ff1478" stroke-width="2.8" stroke-linejoin="round" stroke-linecap="round" clip-path="url(#c4)"/>
<path d="M1206.0 981.4L1216.4 924.0L1227.5 868.0L1239.2 813.4L1251.5 760.2L1264.4 708.4L1278.0 657.9L1292.1 608.8L1306.9 561.0" fill="none" stroke="#ff1478" stroke-width="2.8" stroke-linejoin="round" stroke-linecap="round" clip-path="url(#c4)"/>
<path d="M1201.0 980.7L1212.4 923.6L1224.5 868.2L1237.3 814.6L1251.4 760.1L1266.2 707.6L1281.7 657.0L1297.8 608.2L1314.6 561.0" fill="none" stroke="#ff2d2d" stroke-width="2.8" stroke-linejoin="round" stroke-linecap="round" clip-path="url(#c4)"/>
<path d="M1194.7 980.6L1200.6 953.0L1207.3 923.4L1213.9 895.3L1221.3 865.5L1228.7 837.2L1236.1 810.2L1243.5 784.4L1251.6 757.3L1259.7 731.4L1267.9 706.6L1276.7 680.7L1285.6 655.9L1294.5 632.2L1304.1 607.5L1313.7 583.8L1323.3 561.0" fill="none" stroke="#ff2d2d" stroke-width="2.8" stroke-linejoin="round" stroke-linecap="round" clip-path="url(#c4)"/>
<path d="M1187.3 981.9L1193.8 953.9L1201.1 924.2L1208.5 896.0L1216.6 866.3L1224.7 838.3L1232.9 811.6L1241.8 783.7L1250.8 757.2L1259.7 732.0L1269.5 705.7L1279.2 680.7L1289.0 656.9L1299.6 632.2L1310.2 608.6L1321.6 584.2L1333.0 561.0" fill="none" stroke="#ff7a1e" stroke-width="2.8" stroke-linejoin="round" stroke-linecap="round" clip-path="url(#c4)"/>
<path d="M1178.4 981.0L1185.4 953.2L1193.3 923.7L1201.2 895.9L1209.9 866.8L1218.6 839.2L1227.4 813.1L1237.0 786.0L1246.6 760.2L1257.1 733.6L1267.6 708.3L1278.1 684.3L1289.5 659.5L1300.9 635.9L1313.1 611.7L1325.3 588.6L1337.6 566.6" fill="none" stroke="#ff7a1e" stroke-width="2.8" stroke-linejoin="round" stroke-linecap="round" clip-path="url(#c4)"/>
<path d="M1168.0 982.0L1175.4 955.4L1183.9 927.1L1192.3 900.3L1201.7 872.1L1211.1 845.5L1220.4 820.3L1230.7 794.0L1241.1 769.0L1251.4 745.3L1262.6 720.6L1273.9 697.1L1286.0 672.9L1298.2 649.8L1311.3 626.1L1324.5 603.5L1337.6 582.0" fill="none" stroke="#e6a01e" stroke-width="2.8" stroke-linejoin="round" stroke-linecap="round" clip-path="url(#c4)"/>
<path d="M1157.2 980.7L1165.1 954.8L1173.9 927.4L1182.8 901.6L1192.7 874.5L1202.5 848.9L1213.4 822.4L1224.2 797.4L1235.1 773.6L1246.9 749.1L1258.7 725.8L1270.5 703.7L1283.4 680.9L1296.2 659.2L1310.0 636.9L1323.8 615.7L1337.6 595.4" fill="none" stroke="#e6a01e" stroke-width="2.8" stroke-linejoin="round" stroke-linecap="round" clip-path="url(#c4)"/>
<path d="M1145.0 979.3L1153.4 954.2L1162.7 927.7L1172.1 902.8L1182.5 876.7L1192.9 852.2L1204.4 826.8L1215.8 802.9L1227.3 780.3L1239.8 756.9L1252.2 734.9L1264.7 713.9L1278.3 692.3L1292.8 670.2L1307.4 649.3L1322.0 629.4L1337.6 609.0" fill="none" stroke="#e6dc28" stroke-width="2.8" stroke-linejoin="round" stroke-linecap="round" clip-path="url(#c4)"/>
<path d="M1128.1 980.0L1137.0 955.3L1147.0 929.4L1157.1 905.2L1168.2 880.0L1179.4 856.3L1191.6 831.9L1203.9 809.0L1216.1 787.3L1229.5 765.1L1244.0 742.4L1258.5 720.9L1273.0 700.6L1288.6 680.0L1304.2 660.3L1320.9 640.4L1337.6 621.4" fill="none" stroke="#e6dc28" stroke-width="2.8" stroke-linejoin="round" stroke-linecap="round" clip-path="url(#c4)"/>
<path d="M1111.3 982.0L1120.8 957.6L1131.5 932.1L1142.1 908.4L1154.0 883.7L1165.8 860.7L1178.8 837.0L1191.9 814.9L1206.1 792.2L1220.3 770.9L1234.5 750.8L1249.9 730.3L1266.5 709.5L1283.1 689.8L1300.9 669.9L1318.6 651.1L1337.6 632.1" fill="none" stroke="#a0e628" stroke-width="2.8" stroke-linejoin="round" stroke-linecap="round" clip-path="url(#c4)"/>
<path d="M1094.3 981.2L1104.4 957.3L1115.7 932.3L1127.1 909.2L1139.7 885.3L1152.3 863.0L1166.1 840.2L1180.0 818.8L1195.1 797.1L1210.3 776.7L1226.6 756.0L1243.0 736.5L1260.7 716.8L1278.3 698.3L1297.2 679.5L1317.4 660.6L1337.6 642.7" fill="none" stroke="#a0e628" stroke-width="2.8" stroke-linejoin="round" stroke-linecap="round" clip-path="url(#c4)"/>
<path d="M1076.3 980.9L1087.0 957.4L1099.1 933.0L1111.1 910.5L1124.5 887.4L1137.9 865.9L1152.7 843.9L1167.4 823.5L1183.5 802.7L1199.6 783.2L1217.0 763.5L1235.7 743.7L1254.5 725.0L1274.6 706.3L1294.7 688.7L1316.1 671.0L1337.6 654.3" fill="none" stroke="#00dc00" stroke-width="2.8" stroke-linejoin="round" stroke-linecap="round" clip-path="url(#c4)"/>
<path d="M1056.6 980.9L1068.0 957.7L1080.9 933.7L1093.7 911.7L1108.0 889.1L1122.2 868.3L1137.9 847.0L1153.6 827.3L1170.7 807.3L1187.8 788.6L1206.4 769.7L1226.3 750.7L1246.3 733.0L1267.7 715.2L1290.5 697.3L1313.3 680.6L1337.6 663.9" fill="none" stroke="#00dc00" stroke-width="2.8" stroke-linejoin="round" stroke-linecap="round" clip-path="url(#c4)"/>
<path d="M1034.4 981.0L1046.6 958.1L1060.3 934.5L1074.0 913.0L1089.3 891.1L1104.5 870.9L1121.3 850.4L1138.0 831.4L1156.3 812.2L1176.1 793.0L1195.9 775.1L1217.2 757.1L1238.6 740.3L1261.4 723.5L1285.8 706.8L1311.7 690.1L1337.6 674.4" fill="none" stroke="#14dc8c" stroke-width="2.8" stroke-linejoin="round" stroke-linecap="round" clip-path="url(#c4)"/>
<path d="M1012.9 982.0L1025.8 959.2L1038.7 938.5L1053.3 917.2L1069.4 895.6L1085.6 875.9L1103.3 855.9L1122.7 835.9L1142.1 817.4L1163.1 799.0L1184.1 781.8L1206.7 764.7L1231.0 747.6L1256.8 730.7L1282.7 714.9L1310.1 699.2L1337.6 684.5" fill="none" stroke="#14dc8c" stroke-width="2.8" stroke-linejoin="round" stroke-linecap="round" clip-path="url(#c4)"/>
<path d="M991.0 980.0L1004.7 957.9L1018.4 937.8L1033.9 917.2L1042.5 906.5L1051.0 896.4L1068.2 877.4L1087.1 858.4L1105.9 840.8L1126.5 823.2L1148.8 805.5L1171.1 789.3L1195.2 773.0L1220.9 756.8L1248.4 740.8L1275.8 725.9L1306.7 710.3L1337.6 695.7" fill="none" stroke="#14c8c8" stroke-width="2.8" stroke-linejoin="round" stroke-linecap="round" clip-path="url(#c4)"/>
<path d="M965.1 981.3L972.4 970.0L979.7 959.3L994.3 939.4L1001.6 930.2L1010.8 919.2L1019.9 908.8L1029.0 898.9L1047.3 880.5L1056.4 871.8L1067.4 862.0L1087.5 845.1L1109.4 828.1L1133.1 811.2L1158.7 794.5L1184.2 779.1L1211.6 763.8L1240.8 748.6L1271.9 733.7L1304.7 719.0L1337.6 705.4" fill="none" stroke="#14c8c8" stroke-width="2.8" stroke-linejoin="round" stroke-linecap="round" clip-path="url(#c4)"/>
<path d="M936.8 981.6L944.7 970.8L952.5 960.5L968.3 941.5L976.1 932.7L985.9 922.1L995.8 912.2L1005.6 902.7L1025.2 884.9L1035.1 876.7L1046.8 867.2L1068.4 850.9L1092.0 834.5L1117.6 818.3L1145.1 802.1L1172.6 787.2L1202.0 772.4L1233.5 757.8L1266.9 743.4L1302.2 729.2L1337.6 716.0" fill="none" stroke="#14a0ff" stroke-width="2.8" stroke-linejoin="round" stroke-linecap="round" clip-path="url(#c4)"/>
<path d="M910.6 979.7L919.0 969.3L927.4 959.4L935.7 950.1L944.1 941.2L952.5 932.7L962.9 922.6L973.4 913.0L983.9 903.9L994.3 895.2L1004.8 886.9L1015.3 879.0L1027.8 869.9L1050.8 854.3L1076.0 838.7L1103.2 823.1L1132.5 807.7L1161.8 793.5L1193.2 779.4L1226.7 765.4L1262.2 751.7L1299.9 738.2L1337.6 725.6" fill="none" stroke="#14a0ff" stroke-width="2.8" stroke-linejoin="round" stroke-linecap="round" clip-path="url(#c4)"/>
<path d="M880.2 980.2L889.1 970.1L898.1 960.6L907.0 951.6L915.9 943.0L924.8 934.8L936.0 925.1L956.1 908.9L967.2 900.5L978.4 892.5L989.5 884.9L1002.9 876.2L1016.3 867.8L1029.7 859.9L1056.5 845.0L1085.5 830.2L1114.5 816.6L1147.9 802.1L1181.4 788.7L1217.1 775.5L1255.0 762.5L1295.2 749.7L1337.6 737.2" fill="none" stroke="#1432ff" stroke-width="2.8" stroke-linejoin="round" stroke-linecap="round" clip-path="url(#c4)"/>
<path d="M852.1 981.4L861.4 971.7L870.8 962.5L880.2 953.9L889.6 945.7L899.0 937.9L910.7 928.6L920.1 921.6L931.8 913.3L943.5 905.4L955.3 897.8L967.0 890.6L981.1 882.4L995.1 874.6L1009.2 867.2L1037.4 853.3L1067.8 839.6L1100.7 826.0L1135.9 812.7L1171.1 800.4L1210.9 787.5L1250.8 775.6L1293.0 764.0L1337.6 752.5" fill="none" stroke="#1432ff" stroke-width="2.8" stroke-linejoin="round" stroke-linecap="round" clip-path="url(#c4)"/>
<path d="M826.8 980.9L836.7 971.4L846.5 962.5L856.3 954.1L866.1 946.2L876.0 938.7L888.2 929.8L898.1 923.1L910.3 915.1L922.6 907.5L934.9 900.3L947.2 893.5L961.9 885.7L976.6 878.3L991.4 871.2L1020.8 858.1L1052.7 845.1L1087.1 832.3L1124.0 819.7L1160.8 808.1L1202.5 796.1L1244.3 784.9L1290.9 773.4L1337.6 762.8" fill="none" stroke="#5a14dc" stroke-width="2.8" stroke-linejoin="round" stroke-linecap="round" clip-path="url(#c4)"/>
<path d="M791.7 979.7L799.5 972.8L809.9 964.0L820.4 955.8L830.8 948.1L841.3 940.8L854.3 932.2L864.8 925.7L877.9 918.0L890.9 910.8L904.0 903.9L917.0 897.4L932.7 890.0L948.4 882.9L964.1 876.2L995.4 863.8L1029.4 851.6L1065.9 839.6L1105.1 827.8L1146.9 816.3L1191.3 805.1L1238.3 794.2L1288.0 783.6L1337.6 773.8" fill="none" stroke="#5a14dc" stroke-width="2.8" stroke-linejoin="round" stroke-linecap="round" clip-path="url(#c4)"/>
<path d="M782.6 969.7L790.6 963.0L801.2 954.6L811.9 946.8L822.6 939.5L833.3 932.7L843.9 926.3L854.6 920.2L868.0 913.0L881.3 906.3L894.6 900.0L921.3 888.3L937.3 881.9L953.3 875.8L985.4 864.5L1020.1 853.5L1057.4 842.7L1097.4 832.2L1140.1 822.1L1185.5 812.2L1233.5 802.6L1284.2 793.3L1337.6 784.3" fill="none" stroke="#9614c8" stroke-width="2.8" stroke-linejoin="round" stroke-linecap="round" clip-path="url(#c4)"/>
<path d="M783.9 949.9L792.3 944.5L803.4 937.9L814.5 931.6L825.7 925.7L847.9 914.8L873.0 903.8L900.8 892.9L928.6 883.0L959.2 873.2L992.6 863.4L1028.8 853.9L1064.9 845.1L1103.9 836.4L1145.6 827.9L1190.1 819.6L1237.4 811.4L1287.5 803.4L1337.6 796.0" fill="none" stroke="#9614c8" stroke-width="2.8" stroke-linejoin="round" stroke-linecap="round" clip-path="url(#c4)"/>
<path d="M804.6 959.2v-9.5M804.6 560.7v9.5M944.6 959.2v-9.5M944.6 560.7v9.5M1084.6 959.2v-9.5M1084.6 560.7v9.5M1224.6 959.2v-9.5M1224.6 560.7v9.5M874.6 959.2v-4.5M874.6 560.7v4.5M1014.6 959.2v-4.5M1014.6 560.7v4.5M1154.6 959.2v-4.5M1154.6 560.7v4.5M1294.6 959.2v-4.5M1294.6 560.7v4.5M805.1 928.5h9.5M1337.6 928.5h-9.5M805.1 823.2h9.5M1337.6 823.2h-9.5M805.1 717.9h9.5M1337.6 717.9h-9.5M805.1 612.6h9.5M1337.6 612.6h-9.5M805.1 875.85h4.5M1337.6 875.85h-4.5M805.1 770.55h4.5M1337.6 770.55h-4.5M805.1 665.25h4.5M1337.6 665.25h-4.5" stroke="#000" stroke-width="3" fill="none"/>
<rect x="805.1" y="560.7" width="532.5" height="398.5" stroke="#000" stroke-width="3" fill="none"/>
<text x="804.6" y="992.2" font-size="29.5" text-anchor="middle">5</text>
<text x="944.6" y="992.2" font-size="29.5" text-anchor="middle">6</text>
<text x="1084.6" y="992.2" font-size="29.5" text-anchor="middle">7</text>
<text x="1224.6" y="992.2" font-size="29.5" text-anchor="middle">8</text>
<text x="793.5" y="937.5" font-size="29.5" text-anchor="end">3.1k</text>
<text x="793.5" y="832.2" font-size="29.5" text-anchor="end">3.2k</text>
<text x="793.5" y="726.9" font-size="29.5" text-anchor="end">3.3k</text>
<text x="793.5" y="621.6" font-size="29.5" text-anchor="end">3.4k</text>
<text x="1076.3" y="1036.7" text-anchor="middle" font-size="29.5"><tspan font-style="italic">H</tspan> (T)</text>
<text transform="translate(716,758.7) rotate(-90)" text-anchor="middle" font-size="29.5"><tspan font-style="italic">R</tspan><tspan font-size="20.6" dy="8.0">s</tspan><tspan dy="-8.0"> (Ω)</tspan></text>
<text x="693.5" y="563.3" font-size="36" font-weight="bold">d</text>
<text x="1169.3" y="593.9" font-size="26.3">Sample:</text>
<text x="1169.3" y="626" font-size="26.3">17.5 nm</text>
<path d="M1261 928L923.95 868.69" stroke="#3c3c3c" stroke-width="3"/>
<path d="M901.3 864.7L927.08 862.43L924.76 875.63Z" fill="#3c3c3c"/>
<text x="823" y="877" font-size="29.5">3.0 K</text>
<text x="1262.5" y="941.7" font-size="29.5">0.5 K</text>
<rect x="875.9" y="575.3" width="268" height="199.7" fill="#fff"/>
<path d="M908.81 584.56L914.06 593.56L903.56 593.56Z" fill="#ff0000"/>
<path d="M920.57 584.56L925.82 593.56L915.32 593.56Z" fill="#ff0000"/>
<path d="M932.86 584.96L938.11 593.96L927.61 593.96Z" fill="#ff0000"/>
<path d="M944.63 584.96L949.88 593.96L939.38 593.96Z" fill="#ff0000"/>
<path d="M956.15 585.76L961.4 594.76L950.9 594.76Z" fill="#ff0000"/>
<path d="M967.97 586.56L973.22 595.56L962.72 595.56Z" fill="#ff0000"/>
<path d="M979.49 587.96L984.74 596.96L974.24 596.96Z" fill="#ff0000"/>
<path d="M991.73 591.15L996.98 600.15L986.48 600.15Z" fill="#ff0000"/>
<path d="M1003.55 595.14L1008.8 604.14L998.3 604.14Z" fill="#ff0000"/>
<path d="M1015.55 601.92L1020.8 610.92L1010.3 610.92Z" fill="#ff0000"/>
<path d="M1027.37 613.89L1032.62 622.89L1022.12 622.89Z" fill="#ff0000"/>
<path d="M1039.13 615.69L1044.38 624.69L1033.88 624.69Z" fill="#ff0000"/>
<path d="M1050.65 618.88L1055.9 627.88L1045.4 627.88Z" fill="#ff0000"/>
<circle cx="975.04" cy="591.11" r="4.6" fill="url(#sph)"/>
<circle cx="981.22" cy="593.7" r="4.6" fill="url(#sph)"/>
<circle cx="991.73" cy="595.3" r="4.6" fill="url(#sph)"/>
<circle cx="1015.55" cy="605.47" r="4.6" fill="url(#sph)"/>
<circle cx="1033.49" cy="615.25" r="4.6" fill="url(#sph)"/>
<circle cx="1057.31" cy="635.2" r="4.6" fill="url(#sph)"/>
<circle cx="1075.19" cy="655.35" r="4.6" fill="url(#sph)"/>
<circle cx="1091.17" cy="675.1" r="4.6" fill="url(#sph)"/>
<circle cx="1102.93" cy="695.25" r="4.6" fill="url(#sph)"/>
<circle cx="1113.26" cy="714.8" r="4.6" fill="url(#sph)"/>
<circle cx="1117.42" cy="734.95" r="4.6" fill="url(#sph)"/>
<circle cx="1118.19" cy="754.7" r="4.6" fill="url(#sph)"/>
<path d="M875.9 775v-9.5M935.3 775v-9.5M994.7 775v-9.5M1054.1 775v-9.5M1113.5 775v-9.5M905.6 775v-4.5M965 775v-4.5M1024.4 775v-4.5M1083.8 775v-4.5M875.9 754.7h9.5M875.9 714.8h9.5M875.9 674.9h9.5M875.9 635h9.5M875.9 595.1h9.5M875.9 734.75h4.5M875.9 694.85h4.5M875.9 654.95h4.5M875.9 615.05h4.5" stroke="#000" stroke-width="3" fill="none"/>
<rect x="875.9" y="575.3" width="268" height="199.7" stroke="#000" stroke-width="3" fill="none"/>
<text x="875.9" y="802.5" font-size="22" text-anchor="middle">0</text>
<text x="935.3" y="802.5" font-size="22" text-anchor="middle">1</text>
<text x="994.7" y="802.5" font-size="22" text-anchor="middle">2</text>
<text x="1054.1" y="802.5" font-size="22" text-anchor="middle">3</text>
<text x="1113.5" y="802.5" font-size="22" text-anchor="middle">4</text>
<text x="865.5" y="761.2" font-size="22" text-anchor="end">0</text>
<text x="865.5" y="721.3" font-size="22" text-anchor="end">2</text>
<text x="865.5" y="681.4" font-size="22" text-anchor="end">4</text>
<text x="865.5" y="641.5" font-size="22" text-anchor="end">6</text>
<text x="865.5" y="601.6" font-size="22" text-anchor="end">8</text>
<path d="M894.5 669.48L899.75 678.98L889.25 678.98Z" fill="#ff0000"/>
<circle cx="894.5" cy="731.1" r="4.6" fill="url(#sph)"/>
<text x="915.7" y="680.3" font-size="14.8">Crossing points from</text>
<text x="915.7" y="698.7" font-size="14.8"><tspan font-style="italic">R</tspan>(<tspan font-style="italic">H</tspan>) curves</text>
<text x="915.7" y="736" font-size="14.8"><tspan font-style="italic">R</tspan><tspan font-size="10" dy="3">s</tspan><tspan dy="-3"> plateaus from</tspan></text>
<text x="915.7" y="758.8" font-size="14.8"><tspan font-style="italic">R</tspan><tspan font-size="10" dy="3">s</tspan><tspan dy="-3">(</tspan><tspan font-style="italic">T</tspan>) curves</text>
<text x="1010" y="821" text-anchor="middle" font-size="22"><tspan font-style="italic">T</tspan> (K)</text>
<text transform="translate(836.7,675) rotate(-90)" text-anchor="middle" font-size="22"><tspan font-style="italic">H</tspan><tspan font-size="15.4" dy="5.9">c</tspan><tspan dy="-5.9"> (T)</tspan></text>
<path d="M178.3 1489.3L207.5 1487.9L215.7 1487.3L220.4 1486.6L225.1 1485.3L228.6 1483.6L232.1 1481.2L236.8 1476.8L240.3 1472.7L245.0 1466.3L253.2 1453.0L264.8 1431.4L283.6 1393.4L292.9 1375.7L307.0 1351.3L312.8 1342.0L318.6 1333.5L325.7 1324.2L335.0 1313.0L344.4 1302.5L353.7 1292.9L361.9 1285.4L368.9 1279.6L376.0 1274.5L384.1 1269.5L397.0 1262.7L412.2 1255.9L429.8 1249.1L454.3 1240.6L468.3 1236.2L480.0 1233.1L519.8 1224.6L531.5 1222.5L542.0 1220.9L551.4 1219.8L560.7 1219.2L573.6 1218.9L645.0 1218.9" fill="none" stroke="#ff1478" stroke-width="2.8" stroke-linejoin="round" stroke-linecap="round" clip-path="url(#c5)"/>
<path d="M182.1 1470.3L194.9 1452.8L206.5 1436.3L214.6 1424.0L232.0 1396.5L240.1 1384.6L252.9 1367.8L268.0 1349.8L278.4 1338.4L288.8 1327.7L305.1 1312.1L319.0 1299.3L329.4 1290.5L338.7 1283.4L348.0 1277.0L356.1 1272.3L365.4 1267.5L375.8 1262.8L387.4 1258.1L400.2 1253.4L459.4 1233.0L473.3 1229.0L486.0 1226.2L506.9 1222.7L525.5 1220.0L541.7 1218.2L555.6 1217.2L570.7 1216.8L604.4 1216.9L625.2 1217.4L645.0 1218.4" fill="none" stroke="#ff3228" stroke-width="2.8" stroke-linejoin="round" stroke-linecap="round" clip-path="url(#c5)"/>
<path d="M183.3 1453.8L196.1 1432.8L215.7 1396.8L225.0 1381.2L233.1 1368.9L242.3 1355.8L250.4 1345.1L258.5 1335.2L268.9 1323.7L281.7 1310.7L293.2 1299.8L304.8 1289.8L315.2 1281.6L324.5 1275.2L336.0 1268.2L348.8 1261.3L361.5 1255.2L374.2 1249.9L387.0 1245.3L404.3 1239.8L424.0 1234.2L441.3 1229.8L458.7 1226.0L474.9 1223.3L492.2 1221.1L521.2 1218.1L539.7 1216.7L555.9 1215.9L575.5 1215.7L604.5 1216.0L625.3 1216.7L645.0 1217.9" fill="none" stroke="#ff7a28" stroke-width="2.8" stroke-linejoin="round" stroke-linecap="round" clip-path="url(#c5)"/>
<path d="M184.6 1422.4L192.6 1403.5L198.4 1391.1L204.2 1380.2L211.1 1368.8L219.2 1356.9L228.4 1344.7L238.8 1332.0L253.8 1314.6L265.3 1301.7L274.6 1292.0L283.8 1283.3L291.9 1276.5L301.1 1269.8L312.6 1262.4L324.2 1255.9L334.6 1250.8L344.9 1246.6L357.6 1242.4L380.7 1235.7L401.5 1230.2L418.8 1226.3L434.9 1223.1L451.1 1220.4L466.1 1218.5L483.4 1217.0L509.9 1215.6L537.6 1214.5L561.9 1214.1L581.5 1214.2L602.3 1214.7L623.0 1215.8L645.0 1217.3" fill="none" stroke="#e6aa28" stroke-width="2.8" stroke-linejoin="round" stroke-linecap="round" clip-path="url(#c5)"/>
<path d="M183.3 1370.5L190.3 1355.0L196.1 1342.9L201.8 1332.1L207.6 1322.6L215.7 1310.7L225.0 1298.5L233.1 1288.9L241.2 1280.5L248.1 1274.3L256.2 1268.0L264.3 1262.6L273.6 1257.1L285.1 1251.0L301.3 1243.2L314.1 1237.7L324.5 1233.8L336.0 1230.3L349.9 1226.8L363.8 1223.8L377.7 1221.3L410.1 1216.5L432.1 1213.6L450.6 1211.6L467.9 1210.3L479.5 1209.8L491.1 1209.7L523.5 1210.5L590.6 1213.5L645.0 1216.8" fill="none" stroke="#e6d228" stroke-width="2.8" stroke-linejoin="round" stroke-linecap="round" clip-path="url(#c5)"/>
<path d="M183.3 1287.0L190.3 1278.9L197.2 1271.5L204.2 1264.8L212.3 1257.5L219.2 1251.9L225.0 1247.7L231.9 1243.3L240.0 1238.7L249.3 1234.1L258.5 1230.1L271.3 1225.3L286.3 1220.2L297.9 1216.6L308.3 1213.8L318.7 1211.4L329.1 1209.6L349.9 1206.7L368.4 1204.5L384.6 1202.9L398.5 1202.0L410.1 1201.6L422.8 1201.6L485.3 1202.1L496.9 1202.5L509.6 1203.3L567.4 1209.6L645.0 1215.7" fill="none" stroke="#a0e628" stroke-width="2.8" stroke-linejoin="round" stroke-linecap="round" clip-path="url(#c5)"/>
<path d="M182.1 1206.1L198.4 1201.5L212.3 1198.3L235.5 1194.0L252.9 1191.7L273.8 1190.3L306.2 1188.9L330.6 1188.4L353.8 1188.6L375.8 1189.2L400.2 1190.4L445.4 1193.2L465.2 1194.6L494.2 1197.7L563.8 1206.4L645.0 1214.6" fill="none" stroke="#00e614" stroke-width="2.8" stroke-linejoin="round" stroke-linecap="round" clip-path="url(#c5)"/>
<path d="M183.3 1192.2L230.8 1189.2L250.4 1188.4L270.1 1187.8L308.3 1187.1L338.4 1186.9L358.0 1187.1L378.9 1187.9L418.2 1190.3L450.6 1192.6L466.8 1194.0L492.2 1196.9L562.8 1205.8L601.0 1209.8L645.0 1214.0" fill="none" stroke="#14dc8c" stroke-width="2.8" stroke-linejoin="round" stroke-linecap="round" clip-path="url(#c5)"/>
<path d="M183.3 1185.4L234.2 1184.3L282.8 1184.2L345.3 1185.4L363.8 1186.1L384.6 1187.2L426.3 1190.2L465.6 1193.5L491.1 1196.4L562.8 1205.2L601.0 1209.2L645.0 1213.5" fill="none" stroke="#14c8c8" stroke-width="2.8" stroke-linejoin="round" stroke-linecap="round" clip-path="url(#c5)"/>
<path d="M183.3 1179.0L248.1 1180.5L312.9 1182.5L353.4 1184.3L393.9 1186.9L433.2 1190.1L463.3 1192.8L488.8 1195.7L562.8 1204.7L602.1 1208.8L645.0 1213.0" fill="none" stroke="#14a0ff" stroke-width="2.8" stroke-linejoin="round" stroke-linecap="round" clip-path="url(#c5)"/>
<path d="M183.3 1173.2L329.1 1181.3L366.1 1183.8L405.5 1187.0L462.2 1192.2L562.8 1204.2L602.1 1208.3L645.0 1212.4" fill="none" stroke="#1432ff" stroke-width="2.8" stroke-linejoin="round" stroke-linecap="round" clip-path="url(#c5)"/>
<path d="M183.3 1147.9L194.9 1152.2L205.3 1155.6L214.6 1158.3L223.8 1160.5L243.5 1164.1L287.5 1170.6L325.6 1175.6L363.8 1180.1L446.0 1189.2L560.5 1202.3L645.0 1211.3" fill="none" stroke="#5a14dc" stroke-width="2.8" stroke-linejoin="round" stroke-linecap="round" clip-path="url(#c5)"/>
<path d="M183.3 1120.7L198.4 1128.8L212.3 1135.5L226.1 1141.3L241.2 1146.8L256.2 1151.5L272.4 1155.8L290.9 1160.0L312.9 1164.5L333.7 1168.3L366.1 1173.7L442.5 1185.9L476.0 1192.2L488.8 1194.2L516.5 1197.4L564.0 1201.8L645.0 1209.9" fill="none" stroke="#9614d2" stroke-width="2.8" stroke-linejoin="round" stroke-linecap="round" clip-path="url(#c5)"/>
<path d="M111.2 1499.7v-9.5M111.2 1100.3v9.5M263.7 1499.7v-9.5M263.7 1100.3v9.5M416.2 1499.7v-9.5M416.2 1100.3v9.5M568.7 1499.7v-9.5M568.7 1100.3v9.5M187.45 1499.7v-4.5M187.45 1100.3v4.5M339.95 1499.7v-4.5M339.95 1100.3v4.5M492.45 1499.7v-4.5M492.45 1100.3v4.5M644.95 1499.7v-4.5M644.95 1100.3v4.5M111.8 1489.6h9.5M644.6 1489.6h-9.5M111.8 1380.9h9.5M644.6 1380.9h-9.5M111.8 1272.2h9.5M644.6 1272.2h-9.5M111.8 1163.5h9.5M644.6 1163.5h-9.5M111.8 1435.25h4.5M644.6 1435.25h-4.5M111.8 1326.55h4.5M644.6 1326.55h-4.5M111.8 1217.85h4.5M644.6 1217.85h-4.5M111.8 1109.15h4.5M644.6 1109.15h-4.5" stroke="#000" stroke-width="3" fill="none"/>
<rect x="111.8" y="1100.3" width="532.8" height="399.4" stroke="#000" stroke-width="3" fill="none"/>
<text x="111.2" y="1532.7" font-size="29.5" text-anchor="middle">0</text>
<text x="263.7" y="1532.7" font-size="29.5" text-anchor="middle">1</text>
<text x="416.2" y="1532.7" font-size="29.5" text-anchor="middle">2</text>
<text x="568.7" y="1532.7" font-size="29.5" text-anchor="middle">3</text>
<text x="100.5" y="1498.6" font-size="29.5" text-anchor="end">0.0</text>
<text x="100.5" y="1389.9" font-size="29.5" text-anchor="end">2.0k</text>
<text x="100.5" y="1281.2" font-size="29.5" text-anchor="end">4.0k</text>
<text x="100.5" y="1172.5" font-size="29.5" text-anchor="end">6.0k</text>
<text x="379.8" y="1575.5" text-anchor="middle" font-size="29.5"><tspan font-style="italic">T</tspan> (K)</text>
<text transform="translate(22,1300) rotate(-90)" text-anchor="middle" font-size="29.5"><tspan font-style="italic">R</tspan><tspan font-size="20.6" dy="8.0">s</tspan><tspan dy="-8.0"> (Ω)</tspan></text>
<text x="0" y="1101" font-size="36" font-weight="bold">e</text>
<text x="427.5" y="1137.6" font-size="26.3">Sample: 15.5 nm</text>
<path d="M406 1303.4h52" stroke="#ff1478" stroke-width="2.5" stroke-linecap="round"/>
<text x="462" y="1310.7" font-size="22.5">0&#160;T</text>
<path d="M519 1303.4h52" stroke="#ff3228" stroke-width="2.5" stroke-linecap="round"/>
<text x="575" y="1310.7" font-size="22.5">1.0&#160;T</text>
<path d="M406 1330.7h52" stroke="#ff7a28" stroke-width="2.5" stroke-linecap="round"/>
<text x="462" y="1338" font-size="22.5">2.0&#160;T</text>
<path d="M519 1330.7h52" stroke="#e6aa28" stroke-width="2.5" stroke-linecap="round"/>
<text x="575" y="1338" font-size="22.5">3.0&#160;T</text>
<path d="M406 1358h52" stroke="#e6d228" stroke-width="2.5" stroke-linecap="round"/>
<text x="462" y="1365.3" font-size="22.5">4.0&#160;T</text>
<path d="M519 1358h52" stroke="#a0e628" stroke-width="2.5" stroke-linecap="round"/>
<text x="575" y="1365.3" font-size="22.5">5.0&#160;T</text>
<path d="M406 1385.3h52" stroke="#00e614" stroke-width="2.5" stroke-linecap="round"/>
<text x="462" y="1392.6" font-size="22.5">6.0&#160;T</text>
<path d="M519 1385.3h52" stroke="#14dc8c" stroke-width="2.5" stroke-linecap="round"/>
<text x="575" y="1392.6" font-size="22.5">6.2&#160;T</text>
<path d="M406 1412.6h52" stroke="#14c8c8" stroke-width="2.5" stroke-linecap="round"/>
<text x="462" y="1419.9" font-size="22.5">6.3&#160;T</text>
<path d="M519 1412.6h52" stroke="#14a0ff" stroke-width="2.5" stroke-linecap="round"/>
<text x="575" y="1419.9" font-size="22.5">6.4&#160;T</text>
<path d="M406 1439.9h52" stroke="#1432ff" stroke-width="2.5" stroke-linecap="round"/>
<text x="462" y="1447.2" font-size="22.5">6.5&#160;T</text>
<path d="M519 1439.9h52" stroke="#5a14dc" stroke-width="2.5" stroke-linecap="round"/>
<text x="575" y="1447.2" font-size="22.5">7.0&#160;T</text>
<path d="M406 1467.2h52" stroke="#9614d2" stroke-width="2.5" stroke-linecap="round"/>
<text x="462" y="1474.5" font-size="22.5">8.0&#160;T</text>
<path d="M146.7 1181.4H159.3" stroke="#ff0000" stroke-width="2.4"/>
<path d="M180.8 1181.4L158.3 1175.65L158.3 1187.15Z" fill="#ff0000"/>
<path d="M1164.5 1518.7L1210.9 1374.9L1226.9 1326.6L1241.1 1285.3L1255.3 1245.4L1270.8 1203.8L1288.1 1158.5L1311.0 1100.0" fill="none" stroke="#ff1478" stroke-width="2.8" stroke-linejoin="round" stroke-linecap="round" clip-path="url(#c6)"/>
<path d="M1145.9 1519.8L1182.7 1421.9L1205.9 1361.1L1224.7 1313.8L1241.2 1274.5L1257.7 1237.8L1275.7 1200.6L1297.5 1158.0L1328.3 1099.8" fill="none" stroke="#ff2d2d" stroke-width="2.8" stroke-linejoin="round" stroke-linecap="round" clip-path="url(#c6)"/>
<path d="M1127.0 1518.5L1170.7 1419.9L1197.2 1361.0L1217.7 1317.1L1235.7 1280.9L1244.3 1264.6L1253.7 1247.3L1273.4 1213.3L1298.2 1172.5L1337.6 1109.7" fill="none" stroke="#ff2d2d" stroke-width="2.8" stroke-linejoin="round" stroke-linecap="round" clip-path="url(#c6)"/>
<path d="M1106.6 1519.6L1158.6 1416.9L1187.3 1360.9L1209.6 1319.2L1218.9 1302.7L1228.1 1286.8L1237.4 1271.5L1246.7 1257.0L1256.0 1243.1L1267.1 1227.0L1294.0 1189.9L1337.6 1131.5" fill="none" stroke="#ff7a1e" stroke-width="2.8" stroke-linejoin="round" stroke-linecap="round" clip-path="url(#c6)"/>
<path d="M1086.0 1518.6L1147.2 1415.3L1178.2 1363.5L1201.3 1326.2L1220.3 1297.2L1229.4 1284.2L1239.4 1270.3L1249.4 1257.0L1261.4 1241.6L1289.5 1207.0L1337.6 1149.1" fill="none" stroke="#e6aa28" stroke-width="2.8" stroke-linejoin="round" stroke-linecap="round" clip-path="url(#c6)"/>
<path d="M1065.2 1519.0L1135.2 1412.3L1168.5 1362.1L1193.3 1326.1L1203.0 1312.7L1212.7 1299.7L1222.4 1287.4L1233.2 1274.4L1243.9 1262.0L1255.8 1249.0L1284.8 1218.4L1337.6 1164.5" fill="none" stroke="#e6aa28" stroke-width="2.8" stroke-linejoin="round" stroke-linecap="round" clip-path="url(#c6)"/>
<path d="M1041.8 1519.1L1123.0 1409.1L1158.9 1360.9L1184.5 1327.9L1194.9 1315.0L1205.3 1302.7L1215.8 1291.0L1226.2 1280.0L1236.7 1269.5L1249.4 1257.3L1279.6 1229.9L1337.6 1178.8" fill="none" stroke="#e6d228" stroke-width="2.8" stroke-linejoin="round" stroke-linecap="round" clip-path="url(#c6)"/>
<path d="M1017.4 1519.4L1110.8 1406.8L1149.4 1360.7L1176.9 1329.1L1188.1 1316.8L1198.0 1306.4L1208.0 1296.4L1219.2 1285.9L1230.4 1276.0L1244.1 1264.4L1275.3 1239.6L1337.6 1191.4" fill="none" stroke="#e6d228" stroke-width="2.8" stroke-linejoin="round" stroke-linecap="round" clip-path="url(#c6)"/>
<path d="M992.1 1518.7L1099.2 1401.7L1139.4 1358.2L1167.5 1328.8L1179.6 1316.9L1190.3 1306.9L1201.0 1297.5L1211.7 1288.8L1223.8 1279.6L1237.2 1270.1L1251.9 1260.1L1270.6 1247.9L1337.6 1205.0" fill="none" stroke="#a0e628" stroke-width="2.8" stroke-linejoin="round" stroke-linecap="round" clip-path="url(#c6)"/>
<path d="M966.5 1518.3L1088.3 1396.7L1131.3 1354.2L1147.0 1339.0L1159.9 1327.0L1171.4 1316.7L1182.9 1307.1L1194.3 1298.2L1205.8 1290.0L1217.2 1282.5L1231.6 1273.9L1247.3 1265.0L1266.0 1254.8L1337.6 1216.8" fill="none" stroke="#00dc00" stroke-width="2.8" stroke-linejoin="round" stroke-linecap="round" clip-path="url(#c6)"/>
<path d="M939.4 1516.6L1071.7 1395.7L1116.2 1355.3L1133.1 1340.4L1147.0 1328.6L1159.3 1318.7L1170.0 1310.6L1180.8 1303.2L1193.1 1295.6L1205.4 1288.7L1219.2 1281.7L1234.6 1274.4L1256.1 1264.7L1337.6 1229.0" fill="none" stroke="#00dc00" stroke-width="2.8" stroke-linejoin="round" stroke-linecap="round" clip-path="url(#c6)"/>
<path d="M911.5 1515.0L1038.2 1409.4L1085.9 1370.2L1104.0 1355.7L1118.8 1344.4L1131.9 1334.9L1145.1 1326.1L1158.3 1318.0L1171.4 1310.8L1186.2 1303.4L1202.7 1295.9L1220.8 1288.2L1245.5 1278.1L1337.6 1241.6" fill="none" stroke="#14dc8c" stroke-width="2.8" stroke-linejoin="round" stroke-linecap="round" clip-path="url(#c6)"/>
<path d="M881.5 1512.9L1003.0 1424.4L1054.1 1387.7L1073.4 1374.3L1091.1 1362.5L1106.9 1352.5L1121.0 1344.2L1135.1 1336.5L1150.9 1328.5L1166.8 1321.2L1186.1 1312.8L1233.7 1293.7L1337.6 1253.4" fill="none" stroke="#14c8c8" stroke-width="2.8" stroke-linejoin="round" stroke-linecap="round" clip-path="url(#c6)"/>
<path d="M850.6 1511.5L969.0 1433.8L1023.6 1398.7L1044.3 1385.8L1063.1 1374.6L1080.0 1365.1L1096.9 1356.2L1111.9 1348.8L1128.9 1341.2L1147.7 1333.3L1168.4 1325.3L1222.9 1305.3L1337.6 1264.9" fill="none" stroke="#14c8c8" stroke-width="2.8" stroke-linejoin="round" stroke-linecap="round" clip-path="url(#c6)"/>
<path d="M817.7 1510.1L936.1 1440.8L994.3 1407.4L1016.4 1395.2L1036.5 1384.6L1054.5 1375.6L1072.6 1367.2L1090.7 1359.4L1108.7 1352.2L1128.8 1344.7L1152.9 1336.3L1213.1 1316.6L1337.6 1277.1" fill="none" stroke="#14a0ff" stroke-width="2.8" stroke-linejoin="round" stroke-linecap="round" clip-path="url(#c6)"/>
<path d="M785.8 1509.0L903.0 1446.5L937.1 1428.6L964.8 1414.4L988.2 1402.7L1009.5 1392.6L1030.8 1383.1L1050.0 1375.2L1069.2 1367.9L1090.5 1360.4L1111.8 1353.5L1137.3 1345.6L1201.3 1327.2L1337.6 1289.3" fill="none" stroke="#14a0ff" stroke-width="2.8" stroke-linejoin="round" stroke-linecap="round" clip-path="url(#c6)"/>
<path d="M784.5 1490.0L815.3 1476.0L846.6 1462.3L878.5 1448.8L910.8 1435.7L943.6 1422.8L976.9 1410.3L1010.7 1398.0L1045.1 1386.0L1079.9 1374.3L1115.2 1362.9L1151.0 1351.8L1187.3 1341.0L1224.1 1330.5L1261.5 1320.3L1299.3 1310.4L1337.6 1300.7" fill="none" stroke="#1432ff" stroke-width="2.8" stroke-linejoin="round" stroke-linecap="round" clip-path="url(#c6)"/>
<path d="M783.0 1477.7L812.8 1466.0L843.1 1454.5L873.9 1443.3L908.1 1431.2L940.1 1420.4L972.6 1409.8L1005.6 1399.4L1042.3 1388.3L1079.6 1377.4L1114.3 1367.7L1149.6 1358.2L1185.4 1348.9L1221.8 1339.8L1262.1 1330.1L1299.6 1321.4L1337.6 1312.9" fill="none" stroke="#5a14dc" stroke-width="2.8" stroke-linejoin="round" stroke-linecap="round" clip-path="url(#c6)"/>
<path d="M782.7 1469.5L843.8 1450.3L907.3 1431.4L973.2 1412.8L1041.4 1394.5L1111.9 1376.6L1184.8 1358.9L1260.0 1341.5L1337.6 1324.4" fill="none" stroke="#9614d2" stroke-width="2.8" stroke-linejoin="round" stroke-linecap="round" clip-path="url(#c6)"/>
<path d="M782.3 1458.3L846.6 1442.6L912.4 1427.0L979.9 1411.5L1049.0 1396.0L1115.9 1381.5L1188.2 1366.2L1262.1 1351.0L1337.6 1335.9" fill="none" stroke="#9614d2" stroke-width="2.8" stroke-linejoin="round" stroke-linecap="round" clip-path="url(#c6)"/>
<path d="M804.6 1498.2v-9.5M804.6 1100v9.5M937.85 1498.2v-9.5M937.85 1100v9.5M1071.1 1498.2v-9.5M1071.1 1100v9.5M1204.35 1498.2v-9.5M1204.35 1100v9.5M1337.6 1498.2v-9.5M1337.6 1100v9.5M871.23 1498.2v-4.5M871.23 1100v4.5M1004.48 1498.2v-4.5M1004.48 1100v4.5M1137.72 1498.2v-4.5M1137.72 1100v4.5M1270.97 1498.2v-4.5M1270.97 1100v4.5M805.1 1480.4h9.5M1337.6 1480.4h-9.5M805.1 1301.1h9.5M1337.6 1301.1h-9.5M805.1 1121.8h9.5M1337.6 1121.8h-9.5M805.1 1390.75h4.5M1337.6 1390.75h-4.5M805.1 1211.45h4.5M1337.6 1211.45h-4.5" stroke="#000" stroke-width="3" fill="none"/>
<rect x="805.1" y="1100" width="532.5" height="398.2" stroke="#000" stroke-width="3" fill="none"/>
<text x="804.6" y="1531.2" font-size="29.5" text-anchor="middle">3</text>
<text x="937.85" y="1531.2" font-size="29.5" text-anchor="middle">4</text>
<text x="1071.1" y="1531.2" font-size="29.5" text-anchor="middle">5</text>
<text x="1204.35" y="1531.2" font-size="29.5" text-anchor="middle">6</text>
<text x="1337.6" y="1531.2" font-size="29.5" text-anchor="middle">7</text>
<text x="793.5" y="1489.4" font-size="29.5" text-anchor="end">5.0k</text>
<text x="793.5" y="1310.1" font-size="29.5" text-anchor="end">5.5k</text>
<text x="793.5" y="1130.8" font-size="29.5" text-anchor="end">6.0k</text>
<text x="1076.3" y="1575.7" text-anchor="middle" font-size="29.5"><tspan font-style="italic">H</tspan> (T)</text>
<text transform="translate(716,1295) rotate(-90)" text-anchor="middle" font-size="29.5"><tspan font-style="italic">R</tspan><tspan font-size="20.6" dy="8.0">s</tspan><tspan dy="-8.0"> (Ω)</tspan></text>
<text x="694.3" y="1102.3" font-size="36" font-weight="bold">f</text>
<text x="1169.3" y="1137.9" font-size="26.3">Sample:</text>
<text x="1169.3" y="1170" font-size="26.3">15.5 nm</text>
<path d="M1249.9 1463.9L907.67 1389.02" stroke="#3c3c3c" stroke-width="3"/>
<path d="M885.2 1384.1L911.05 1382.9L908.19 1395.99Z" fill="#3c3c3c"/>
<text x="815" y="1390.4" font-size="29.5">2.5 K</text>
<text x="1261" y="1477.8" font-size="29.5">0.6 K</text>
<rect x="875.9" y="1114.8" width="268" height="200" fill="#fff"/>
<path d="M925.98 1125.8L931.23 1134.8L920.73 1134.8Z" fill="#ff0000"/>
<path d="M940.69 1127.05L945.94 1136.05L935.44 1136.05Z" fill="#ff0000"/>
<path d="M955.4 1127.05L960.65 1136.05L950.15 1136.05Z" fill="#ff0000"/>
<path d="M970.87 1130.3L976.12 1139.3L965.62 1139.3Z" fill="#ff0000"/>
<path d="M985.58 1133.79L990.83 1142.79L980.33 1142.79Z" fill="#ff0000"/>
<path d="M1001.51 1139.78L1006.76 1148.78L996.26 1148.78Z" fill="#ff0000"/>
<path d="M1016.98 1146.77L1022.23 1155.77L1011.73 1155.77Z" fill="#ff0000"/>
<path d="M1032.46 1156.01L1037.71 1165.01L1027.21 1165.01Z" fill="#ff0000"/>
<path d="M1047.62 1166.74L1052.87 1175.74L1042.37 1175.74Z" fill="#ff0000"/>
<path d="M1062.33 1181.47L1067.58 1190.47L1057.08 1190.47Z" fill="#ff0000"/>
<circle cx="959.82" cy="1132" r="4.6" fill="url(#sph)"/>
<circle cx="972.09" cy="1134.75" r="4.6" fill="url(#sph)"/>
<circle cx="988.71" cy="1139.74" r="4.6" fill="url(#sph)"/>
<circle cx="1041.53" cy="1164.7" r="4.6" fill="url(#sph)"/>
<circle cx="1064.54" cy="1189.66" r="4.6" fill="url(#sph)"/>
<circle cx="1086.65" cy="1214.62" r="4.6" fill="url(#sph)"/>
<circle cx="1101.36" cy="1239.58" r="4.6" fill="url(#sph)"/>
<circle cx="1108.68" cy="1264.54" r="4.6" fill="url(#sph)"/>
<circle cx="1112.64" cy="1289.5" r="4.6" fill="url(#sph)"/>
<path d="M875.9 1314.8v-9.5M952.12 1314.8v-9.5M1028.34 1314.8v-9.5M1104.56 1314.8v-9.5M914.01 1314.8v-4.5M990.23 1314.8v-4.5M1066.45 1314.8v-4.5M875.9 1289.5h9.5M875.9 1239.58h9.5M875.9 1189.66h9.5M875.9 1139.74h9.5M875.9 1264.54h4.5M875.9 1214.62h4.5M875.9 1164.7h4.5" stroke="#000" stroke-width="3" fill="none"/>
<rect x="875.9" y="1114.8" width="268" height="200" stroke="#000" stroke-width="3" fill="none"/>
<text x="875.9" y="1342.5" font-size="22" text-anchor="middle">0</text>
<text x="952.12" y="1342.5" font-size="22" text-anchor="middle">1</text>
<text x="1028.34" y="1342.5" font-size="22" text-anchor="middle">2</text>
<text x="1104.56" y="1342.5" font-size="22" text-anchor="middle">3</text>
<text x="865.5" y="1296" font-size="22" text-anchor="end">0</text>
<text x="865.5" y="1246.08" font-size="22" text-anchor="end">2</text>
<text x="865.5" y="1196.16" font-size="22" text-anchor="end">4</text>
<text x="865.5" y="1146.24" font-size="22" text-anchor="end">6</text>
<path d="M894.5 1208.98L899.75 1218.48L889.25 1218.48Z" fill="#ff0000"/>
<circle cx="894.5" cy="1270.6" r="4.6" fill="url(#sph)"/>
<text x="915.7" y="1219.8" font-size="14.8">Crossing points from</text>
<text x="915.7" y="1238.2" font-size="14.8"><tspan font-style="italic">R</tspan>(<tspan font-style="italic">H</tspan>) curves</text>
<text x="915.7" y="1275.6" font-size="14.8"><tspan font-style="italic">R</tspan><tspan font-size="10" dy="3">s</tspan><tspan dy="-3"> plateaus from</tspan></text>
<text x="915.7" y="1297.4" font-size="14.8"><tspan font-style="italic">R</tspan><tspan font-size="10" dy="3">s</tspan><tspan dy="-3">(</tspan><tspan font-style="italic">T</tspan>) curves</text>
<text x="1010" y="1366" text-anchor="middle" font-size="22"><tspan font-style="italic">T</tspan> (K)</text>
<text transform="translate(836.7,1214.8) rotate(-90)" text-anchor="middle" font-size="22"><tspan font-style="italic">H</tspan><tspan font-size="15.4" dy="5.9">c</tspan><tspan dy="-5.9"> (T)</tspan></text></svg></body></html>
